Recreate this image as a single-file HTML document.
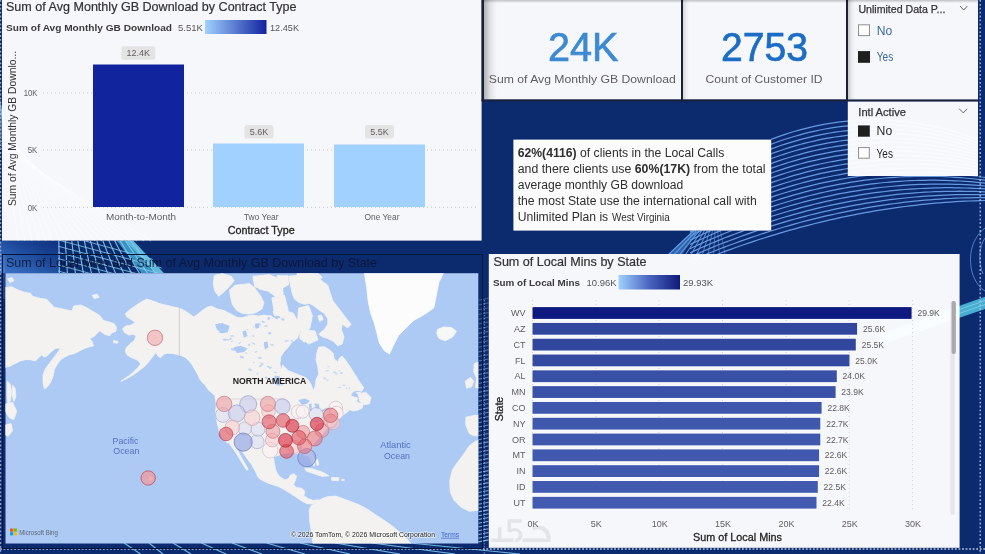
<!DOCTYPE html>
<html><head><meta charset="utf-8"><title>Dashboard</title>
<style>
html,body{margin:0;padding:0;background:#0c2a6e;}
body{width:985px;height:554px;overflow:hidden;position:relative;font-family:"Liberation Sans", sans-serif;}
#stage{position:absolute;left:0;top:0;width:985px;height:554px;overflow:hidden;filter:opacity(1);}
svg{position:absolute;left:0;top:0;display:block}
text{font-family:"Liberation Sans", sans-serif;}
</style></head><body>
<div id="stage">
<svg width="985" height="554" viewBox="0 0 985 554">
<defs>
<linearGradient id="g1" x1="0" x2="1" y1="0" y2="0"><stop offset="0" stop-color="#a0d1ff"/><stop offset="1" stop-color="#12239e"/></linearGradient>
<linearGradient id="g2" x1="0" x2="1" y1="0" y2="0"><stop offset="0" stop-color="#a0d1ff"/><stop offset="0.5" stop-color="#4a64c0"/><stop offset="1" stop-color="#0d1a7a"/></linearGradient>
<linearGradient id="shL" x1="0" x2="1" y1="0" y2="0"><stop offset="0" stop-color="#000" stop-opacity="0.28"/><stop offset="0.5" stop-color="#000" stop-opacity="0.08"/><stop offset="1" stop-color="#000" stop-opacity="0"/></linearGradient>
<clipPath id="mapclip"><rect x="5.5" y="273.2" width="472.8" height="270.3"/></clipPath>
</defs>
<rect x="0" y="0" width="985" height="554" fill="#0c2a6e"/>

<clipPath id="fanclip"><path d="M771 100 H977 V176.5 H985 V260 H664.9 L689.6 230.5 H771Z"/></clipPath>
<clipPath id="gridclip"><rect x="640" y="230" width="345" height="24.5"/></clipPath>
<clipPath id="bclip"><path d="M0 240.5 H482 V273 H0Z"/></clipPath>
<clipPath id="bclip2"><path d="M58 240 L133 240 L168 274 L58 274Z"/></clipPath>
<linearGradient id="bwash" x1="0" x2="1" y1="1" y2="0"><stop offset="0" stop-color="#3c78cc"/><stop offset="0.6" stop-color="#1c4798"/><stop offset="1" stop-color="#12378a" stop-opacity="0.6"/></linearGradient>
<g><path d="M690 182.4 L695 179.1 L700 175.8 L705 172.6 L710 169.5 L715 166.6 L720 163.7 L725 160.9 L730 158.1 L735 155.5 L740 153.0 L745 150.6 L750 148.2 L755 146.0 L760 143.8 L765 141.8 L770 139.8 L775 137.9 L780 136.1 L785 134.4 L790 132.8 L795 131.3 L800 129.9 L805 128.6 L810 127.3 L815 126.2 L820 125.2 L825 124.2 L830 123.3 L835 122.6 L840 121.9 L845 121.3 L850 120.8 L855 120.4 L860 120.1 L865 119.9 L870 119.8 L875 119.7 L880 119.8 L885 120.0 L890 120.2 L895 120.6 L900 121.0 L905 121.5 L910 122.1 L915 122.8 L920 123.6 L925 124.5 L930 125.5 L935 126.6 L940 127.8 L945 129.0 L950 130.4 L955 131.9 L960 133.4 L965 135.0 L970 136.8 L975 138.6 L980 140.5 L985 142.5" clip-path="url(#fanclip)" fill="none" stroke="#6b9fe6" stroke-opacity="0.95" stroke-width="1.2"/><path d="M690 186.6 L695 183.3 L700 180.1 L705 177.0 L710 173.9 L715 171.0 L720 168.1 L725 165.4 L730 162.7 L735 160.1 L740 157.7 L745 155.3 L750 152.9 L755 150.7 L760 148.6 L765 146.6 L770 144.6 L775 142.7 L780 141.0 L785 139.3 L790 137.7 L795 136.2 L800 134.8 L805 133.4 L810 132.2 L815 131.1 L820 130.0 L825 129.0 L830 128.2 L835 127.4 L840 126.7 L845 126.1 L850 125.6 L855 125.1 L860 124.8 L865 124.5 L870 124.4 L875 124.3 L880 124.3 L885 124.4 L890 124.6 L895 124.9 L900 125.3 L905 125.8 L910 126.3 L915 127.0 L920 127.7 L925 128.5 L930 129.4 L935 130.4 L940 131.5 L945 132.7 L950 134.0 L955 135.3 L960 136.8 L965 138.3 L970 140.0 L975 141.7 L980 143.5 L985 145.4" clip-path="url(#fanclip)" fill="none" stroke="#6b9fe6" stroke-opacity="0.95" stroke-width="1.2"/><path d="M690 190.7 L695 187.5 L700 184.3 L705 181.3 L710 178.3 L715 175.4 L720 172.6 L725 169.9 L730 167.3 L735 164.8 L740 162.3 L745 159.9 L750 157.7 L755 155.5 L760 153.4 L765 151.3 L770 149.4 L775 147.6 L780 145.8 L785 144.1 L790 142.6 L795 141.1 L800 139.6 L805 138.3 L810 137.1 L815 135.9 L820 134.9 L825 133.9 L830 133.0 L835 132.2 L840 131.5 L845 130.8 L850 130.3 L855 129.8 L860 129.5 L865 129.2 L870 129.0 L875 128.9 L880 128.8 L885 128.9 L890 129.0 L895 129.3 L900 129.6 L905 130.0 L910 130.5 L915 131.1 L920 131.7 L925 132.5 L930 133.3 L935 134.3 L940 135.3 L945 136.4 L950 137.6 L955 138.8 L960 140.2 L965 141.6 L970 143.2 L975 144.8 L980 146.5 L985 148.3" clip-path="url(#fanclip)" fill="none" stroke="#6b9fe6" stroke-opacity="0.95" stroke-width="1.2"/><path d="M690 194.9 L695 191.7 L700 188.6 L705 185.6 L710 182.7 L715 179.9 L720 177.1 L725 174.4 L730 171.9 L735 169.4 L740 167.0 L745 164.6 L750 162.4 L755 160.2 L760 158.1 L765 156.1 L770 154.2 L775 152.4 L780 150.7 L785 149.0 L790 147.4 L795 145.9 L800 144.5 L805 143.2 L810 142.0 L815 140.8 L820 139.7 L825 138.7 L830 137.8 L835 137.0 L840 136.3 L845 135.6 L850 135.0 L855 134.5 L860 134.1 L865 133.8 L870 133.6 L875 133.4 L880 133.4 L885 133.4 L890 133.5 L895 133.6 L900 133.9 L905 134.3 L910 134.7 L915 135.2 L920 135.8 L925 136.5 L930 137.2 L935 138.1 L940 139.0 L945 140.1 L950 141.2 L955 142.3 L960 143.6 L965 145.0 L970 146.4 L975 147.9 L980 149.5 L985 151.2" clip-path="url(#fanclip)" fill="none" stroke="#6b9fe6" stroke-opacity="0.95" stroke-width="1.2"/><path d="M690 199.0 L695 195.9 L700 192.9 L705 189.9 L710 187.1 L715 184.3 L720 181.6 L725 179.0 L730 176.4 L735 174.0 L740 171.6 L745 169.3 L750 167.1 L755 165.0 L760 162.9 L765 160.9 L770 159.0 L775 157.2 L780 155.5 L785 153.9 L790 152.3 L795 150.8 L800 149.4 L805 148.1 L810 146.8 L815 145.7 L820 144.6 L825 143.6 L830 142.7 L835 141.8 L840 141.0 L845 140.4 L850 139.8 L855 139.3 L860 138.8 L865 138.5 L870 138.2 L875 138.0 L880 137.9 L885 137.8 L890 137.9 L895 138.0 L900 138.2 L905 138.5 L910 138.9 L915 139.3 L920 139.9 L925 140.5 L930 141.2 L935 141.9 L940 142.8 L945 143.7 L950 144.7 L955 145.8 L960 147.0 L965 148.3 L970 149.6 L975 151.0 L980 152.5 L985 154.1" clip-path="url(#fanclip)" fill="none" stroke="#6b9fe6" stroke-opacity="0.95" stroke-width="1.2"/><path d="M690 203.1 L695 200.1 L700 197.1 L705 194.3 L710 191.4 L715 188.7 L720 186.1 L725 183.5 L730 181.0 L735 178.6 L740 176.3 L745 174.0 L750 171.8 L755 169.7 L760 167.7 L765 165.7 L770 163.9 L775 162.1 L780 160.4 L785 158.7 L790 157.2 L795 155.7 L800 154.3 L805 152.9 L810 151.7 L815 150.5 L820 149.4 L825 148.4 L830 147.5 L835 146.6 L840 145.8 L845 145.1 L850 144.5 L855 144.0 L860 143.5 L865 143.1 L870 142.8 L875 142.5 L880 142.4 L885 142.3 L890 142.3 L895 142.4 L900 142.5 L905 142.8 L910 143.1 L915 143.4 L920 143.9 L925 144.4 L930 145.1 L935 145.8 L940 146.5 L945 147.4 L950 148.3 L955 149.3 L960 150.4 L965 151.6 L970 152.8 L975 154.1 L980 155.5 L985 157.0" clip-path="url(#fanclip)" fill="none" stroke="#6b9fe6" stroke-opacity="0.95" stroke-width="1.2"/><path d="M690 207.3 L695 204.3 L700 201.4 L705 198.6 L710 195.8 L715 193.2 L720 190.6 L725 188.0 L730 185.6 L735 183.2 L740 180.9 L745 178.7 L750 176.5 L755 174.5 L760 172.5 L765 170.5 L770 168.7 L775 166.9 L780 165.2 L785 163.6 L790 162.0 L795 160.6 L800 159.1 L805 157.8 L810 156.6 L815 155.4 L820 154.3 L825 153.3 L830 152.3 L835 151.4 L840 150.6 L845 149.9 L850 149.2 L855 148.7 L860 148.2 L865 147.7 L870 147.4 L875 147.1 L880 146.9 L885 146.8 L890 146.7 L895 146.7 L900 146.8 L905 147.0 L910 147.2 L915 147.6 L920 148.0 L925 148.4 L930 149.0 L935 149.6 L940 150.3 L945 151.1 L950 151.9 L955 152.8 L960 153.8 L965 154.9 L970 156.0 L975 157.2 L980 158.5 L985 159.9" clip-path="url(#fanclip)" fill="none" stroke="#6b9fe6" stroke-opacity="0.95" stroke-width="1.2"/><path d="M690 211.4 L695 208.5 L700 205.7 L705 202.9 L710 200.2 L715 197.6 L720 195.0 L725 192.6 L730 190.2 L735 187.8 L740 185.6 L745 183.4 L750 181.3 L755 179.2 L760 177.2 L765 175.3 L770 173.5 L775 171.7 L780 170.1 L785 168.4 L790 166.9 L795 165.4 L800 164.0 L805 162.7 L810 161.4 L815 160.3 L820 159.1 L825 158.1 L830 157.1 L835 156.2 L840 155.4 L845 154.7 L850 154.0 L855 153.4 L860 152.8 L865 152.4 L870 152.0 L875 151.7 L880 151.4 L885 151.2 L890 151.1 L895 151.1 L900 151.1 L905 151.2 L910 151.4 L915 151.7 L920 152.0 L925 152.4 L930 152.9 L935 153.4 L940 154.0 L945 154.7 L950 155.5 L955 156.3 L960 157.2 L965 158.2 L970 159.2 L975 160.3 L980 161.5 L985 162.8" clip-path="url(#fanclip)" fill="none" stroke="#6b9fe6" stroke-opacity="0.95" stroke-width="1.2"/><path d="M690 215.6 L695 212.7 L700 209.9 L705 207.2 L710 204.6 L715 202.0 L720 199.5 L725 197.1 L730 194.7 L735 192.4 L740 190.2 L745 188.1 L750 186.0 L755 184.0 L760 182.0 L765 180.1 L770 178.3 L775 176.6 L780 174.9 L785 173.3 L790 171.8 L795 170.3 L800 168.9 L805 167.6 L810 166.3 L815 165.1 L820 164.0 L825 163.0 L830 162.0 L835 161.1 L840 160.2 L845 159.4 L850 158.7 L855 158.1 L860 157.5 L865 157.0 L870 156.6 L875 156.2 L880 155.9 L885 155.7 L890 155.6 L895 155.5 L900 155.4 L905 155.5 L910 155.6 L915 155.8 L920 156.1 L925 156.4 L930 156.8 L935 157.3 L940 157.8 L945 158.4 L950 159.1 L955 159.8 L960 160.6 L965 161.5 L970 162.4 L975 163.5 L980 164.5 L985 165.7" clip-path="url(#fanclip)" fill="none" stroke="#6b9fe6" stroke-opacity="0.95" stroke-width="1.2"/><path d="M690 219.7 L695 216.9 L700 214.2 L705 211.6 L710 209.0 L715 206.5 L720 204.0 L725 201.6 L730 199.3 L735 197.0 L740 194.9 L745 192.7 L750 190.7 L755 188.7 L760 186.8 L765 184.9 L770 183.1 L775 181.4 L780 179.7 L785 178.2 L790 176.6 L795 175.2 L800 173.8 L805 172.4 L810 171.2 L815 170.0 L820 168.9 L825 167.8 L830 166.8 L835 165.9 L840 165.0 L845 164.2 L850 163.5 L855 162.8 L860 162.2 L865 161.7 L870 161.2 L875 160.8 L880 160.4 L885 160.2 L890 160.0 L895 159.8 L900 159.8 L905 159.7 L910 159.8 L915 159.9 L920 160.1 L925 160.4 L930 160.7 L935 161.1 L940 161.5 L945 162.1 L950 162.6 L955 163.3 L960 164.0 L965 164.8 L970 165.7 L975 166.6 L980 167.6 L985 168.6" clip-path="url(#fanclip)" fill="none" stroke="#6b9fe6" stroke-opacity="0.95" stroke-width="1.2"/><path d="M690 223.8 L695 221.1 L700 218.5 L705 215.9 L710 213.4 L715 210.9 L720 208.5 L725 206.1 L730 203.9 L735 201.7 L740 199.5 L745 197.4 L750 195.4 L755 193.4 L760 191.5 L765 189.7 L770 187.9 L775 186.2 L780 184.6 L785 183.0 L790 181.5 L795 180.0 L800 178.7 L805 177.3 L810 176.1 L815 174.9 L820 173.7 L825 172.6 L830 171.6 L835 170.7 L840 169.8 L845 169.0 L850 168.2 L855 167.5 L860 166.9 L865 166.3 L870 165.8 L875 165.3 L880 165.0 L885 164.6 L890 164.4 L895 164.2 L900 164.1 L905 164.0 L910 164.0 L915 164.1 L920 164.2 L925 164.4 L930 164.6 L935 164.9 L940 165.3 L945 165.7 L950 166.2 L955 166.8 L960 167.4 L965 168.1 L970 168.9 L975 169.7 L980 170.6 L985 171.5" clip-path="url(#fanclip)" fill="none" stroke="#6b9fe6" stroke-opacity="0.95" stroke-width="1.2"/><path d="M690 228.0 L695 225.3 L700 222.7 L705 220.2 L710 217.7 L715 215.3 L720 213.0 L725 210.7 L730 208.4 L735 206.3 L740 204.2 L745 202.1 L750 200.1 L755 198.2 L760 196.3 L765 194.5 L770 192.8 L775 191.1 L780 189.4 L785 187.9 L790 186.4 L795 184.9 L800 183.5 L805 182.2 L810 180.9 L815 179.7 L820 178.6 L825 177.5 L830 176.5 L835 175.5 L840 174.6 L845 173.7 L850 172.9 L855 172.2 L860 171.5 L865 170.9 L870 170.4 L875 169.9 L880 169.5 L885 169.1 L890 168.8 L895 168.6 L900 168.4 L905 168.2 L910 168.2 L915 168.2 L920 168.2 L925 168.3 L930 168.5 L935 168.7 L940 169.0 L945 169.4 L950 169.8 L955 170.3 L960 170.8 L965 171.4 L970 172.1 L975 172.8 L980 173.6 L985 174.4" clip-path="url(#fanclip)" fill="none" stroke="#6b9fe6" stroke-opacity="0.95" stroke-width="1.2"/><path d="M690 232.1 L695 229.5 L700 227.0 L705 224.5 L710 222.1 L715 219.8 L720 217.4 L725 215.2 L730 213.0 L735 210.9 L740 208.8 L745 206.8 L750 204.8 L755 202.9 L760 201.1 L765 199.3 L770 197.6 L775 195.9 L780 194.3 L785 192.7 L790 191.2 L795 189.8 L800 188.4 L805 187.1 L810 185.8 L815 184.6 L820 183.4 L825 182.3 L830 181.3 L835 180.3 L840 179.4 L845 178.5 L850 177.7 L855 176.9 L860 176.2 L865 175.6 L870 175.0 L875 174.5 L880 174.0 L885 173.6 L890 173.2 L895 172.9 L900 172.7 L905 172.5 L910 172.4 L915 172.3 L920 172.3 L925 172.3 L930 172.4 L935 172.6 L940 172.8 L945 173.1 L950 173.4 L955 173.8 L960 174.2 L965 174.7 L970 175.3 L975 175.9 L980 176.6 L985 177.3" clip-path="url(#fanclip)" fill="none" stroke="#6b9fe6" stroke-opacity="0.95" stroke-width="1.2"/><path d="M690 236.3 L695 233.7 L700 231.3 L705 228.9 L710 226.5 L715 224.2 L720 221.9 L725 219.7 L730 217.6 L735 215.5 L740 213.5 L745 211.5 L750 209.6 L755 207.7 L760 205.9 L765 204.1 L770 202.4 L775 200.7 L780 199.1 L785 197.6 L790 196.1 L795 194.7 L800 193.3 L805 191.9 L810 190.7 L815 189.5 L820 188.3 L825 187.2 L830 186.1 L835 185.1 L840 184.2 L845 183.3 L850 182.4 L855 181.6 L860 180.9 L865 180.2 L870 179.6 L875 179.0 L880 178.5 L885 178.0 L890 177.6 L895 177.3 L900 177.0 L905 176.7 L910 176.6 L915 176.4 L920 176.3 L925 176.3 L930 176.3 L935 176.4 L940 176.5 L945 176.7 L950 177.0 L955 177.3 L960 177.6 L965 178.0 L970 178.5 L975 179.0 L980 179.6 L985 180.2" clip-path="url(#fanclip)" fill="none" stroke="#6b9fe6" stroke-opacity="0.95" stroke-width="1.2"/><path d="M690 240.4 L695 237.9 L700 235.5 L705 233.2 L710 230.9 L715 228.6 L720 226.4 L725 224.3 L730 222.2 L735 220.1 L740 218.1 L745 216.2 L750 214.3 L755 212.4 L760 210.6 L765 208.9 L770 207.2 L775 205.6 L780 204.0 L785 202.5 L790 201.0 L795 199.5 L800 198.2 L805 196.8 L810 195.5 L815 194.3 L820 193.1 L825 192.0 L830 190.9 L835 189.9 L840 188.9 L845 188.0 L850 187.2 L855 186.3 L860 185.6 L865 184.9 L870 184.2 L875 183.6 L880 183.0 L885 182.5 L890 182.1 L895 181.7 L900 181.3 L905 181.0 L910 180.7 L915 180.5 L920 180.4 L925 180.3 L930 180.2 L935 180.2 L940 180.3 L945 180.4 L950 180.6 L955 180.8 L960 181.0 L965 181.3 L970 181.7 L975 182.1 L980 182.6 L985 183.1" clip-path="url(#fanclip)" fill="none" stroke="#6b9fe6" stroke-opacity="0.95" stroke-width="1.2"/><path d="M690 244.5 L695 242.1 L700 239.8 L705 237.5 L710 235.3 L715 233.0 L720 230.9 L725 228.8 L730 226.7 L735 224.7 L740 222.8 L745 220.9 L750 219.0 L755 217.2 L760 215.4 L765 213.7 L770 212.0 L775 210.4 L780 208.8 L785 207.3 L790 205.8 L795 204.4 L800 203.0 L805 201.7 L810 200.4 L815 199.2 L820 198.0 L825 196.9 L830 195.8 L835 194.7 L840 193.7 L845 192.8 L850 191.9 L855 191.1 L860 190.3 L865 189.5 L870 188.8 L875 188.1 L880 187.5 L885 187.0 L890 186.5 L895 186.0 L900 185.6 L905 185.2 L910 184.9 L915 184.7 L920 184.4 L925 184.3 L930 184.1 L935 184.1 L940 184.0 L945 184.1 L950 184.1 L955 184.3 L960 184.4 L965 184.6 L970 184.9 L975 185.2 L980 185.6 L985 186.0" clip-path="url(#fanclip)" fill="none" stroke="#6b9fe6" stroke-opacity="0.95" stroke-width="1.2"/><path d="M690 248.7 L695 246.3 L700 244.1 L705 241.8 L710 239.6 L715 237.5 L720 235.4 L725 233.3 L730 231.3 L735 229.3 L740 227.4 L745 225.5 L750 223.7 L755 221.9 L760 220.2 L765 218.5 L770 216.8 L775 215.2 L780 213.7 L785 212.2 L790 210.7 L795 209.3 L800 207.9 L805 206.6 L810 205.3 L815 204.0 L820 202.9 L825 201.7 L830 200.6 L835 199.5 L840 198.5 L845 197.6 L850 196.6 L855 195.8 L860 194.9 L865 194.1 L870 193.4 L875 192.7 L880 192.1 L885 191.5 L890 190.9 L895 190.4 L900 189.9 L905 189.5 L910 189.1 L915 188.8 L920 188.5 L925 188.3 L930 188.1 L935 187.9 L940 187.8 L945 187.7 L950 187.7 L955 187.8 L960 187.8 L965 188.0 L970 188.1 L975 188.3 L980 188.6 L985 188.9" clip-path="url(#fanclip)" fill="none" stroke="#6b9fe6" stroke-opacity="0.95" stroke-width="1.2"/><path d="M690 252.8 L695 250.6 L700 248.3 L705 246.1 L710 244.0 L715 241.9 L720 239.9 L725 237.8 L730 235.9 L735 234.0 L740 232.1 L745 230.2 L750 228.4 L755 226.7 L760 225.0 L765 223.3 L770 221.7 L775 220.1 L780 218.5 L785 217.0 L790 215.6 L795 214.2 L800 212.8 L805 211.4 L810 210.2 L815 208.9 L820 207.7 L825 206.5 L830 205.4 L835 204.4 L840 203.3 L845 202.3 L850 201.4 L855 200.5 L860 199.6 L865 198.8 L870 198.0 L875 197.3 L880 196.6 L885 195.9 L890 195.3 L895 194.7 L900 194.2 L905 193.7 L910 193.3 L915 192.9 L920 192.5 L925 192.2 L930 192.0 L935 191.7 L940 191.6 L945 191.4 L950 191.3 L955 191.3 L960 191.2 L965 191.3 L970 191.3 L975 191.4 L980 191.6 L985 191.8" clip-path="url(#fanclip)" fill="none" stroke="#6b9fe6" stroke-opacity="0.95" stroke-width="1.2"/><path d="M690 257.0 L695 254.8 L700 252.6 L705 250.5 L710 248.4 L715 246.3 L720 244.3 L725 242.4 L730 240.5 L735 238.6 L740 236.7 L745 234.9 L750 233.1 L755 231.4 L760 229.7 L765 228.1 L770 226.5 L775 224.9 L780 223.4 L785 221.9 L790 220.4 L795 219.0 L800 217.7 L805 216.3 L810 215.0 L815 213.8 L820 212.6 L825 211.4 L830 210.3 L835 209.2 L840 208.1 L845 207.1 L850 206.1 L855 205.2 L860 204.3 L865 203.4 L870 202.6 L875 201.8 L880 201.1 L885 200.4 L890 199.7 L895 199.1 L900 198.5 L905 198.0 L910 197.5 L915 197.0 L920 196.6 L925 196.2 L930 195.9 L935 195.6 L940 195.3 L945 195.1 L950 194.9 L955 194.7 L960 194.6 L965 194.6 L970 194.5 L975 194.6 L980 194.6 L985 194.7" clip-path="url(#fanclip)" fill="none" stroke="#6b9fe6" stroke-opacity="0.95" stroke-width="1.2"/><path d="M690 261.1 L695 259.0 L700 256.9 L705 254.8 L710 252.8 L715 250.8 L720 248.8 L725 246.9 L730 245.0 L735 243.2 L740 241.4 L745 239.6 L750 237.9 L755 236.2 L760 234.5 L765 232.9 L770 231.3 L775 229.7 L780 228.2 L785 226.7 L790 225.3 L795 223.9 L800 222.5 L805 221.2 L810 219.9 L815 218.6 L820 217.4 L825 216.2 L830 215.1 L835 214.0 L840 212.9 L845 211.9 L850 210.9 L855 209.9 L860 209.0 L865 208.1 L870 207.2 L875 206.4 L880 205.6 L885 204.9 L890 204.1 L895 203.5 L900 202.8 L905 202.2 L910 201.7 L915 201.1 L920 200.7 L925 200.2 L930 199.8 L935 199.4 L940 199.1 L945 198.7 L950 198.5 L955 198.2 L960 198.0 L965 197.9 L970 197.8 L975 197.7 L980 197.6 L985 197.6" clip-path="url(#fanclip)" fill="none" stroke="#6b9fe6" stroke-opacity="0.95" stroke-width="1.2"/><path d="M690 265.2 L695 263.2 L700 261.1 L705 259.1 L710 257.2 L715 255.2 L720 253.3 L725 251.4 L730 249.6 L735 247.8 L740 246.0 L745 244.3 L750 242.6 L755 240.9 L760 239.3 L765 237.7 L770 236.1 L775 234.6 L780 233.1 L785 231.6 L790 230.2 L795 228.8 L800 227.4 L805 226.1 L810 224.8 L815 223.5 L820 222.3 L825 221.1 L830 219.9 L835 218.8 L840 217.7 L845 216.6 L850 215.6 L855 214.6 L860 213.6 L865 212.7 L870 211.8 L875 210.9 L880 210.1 L885 209.3 L890 208.6 L895 207.8 L900 207.1 L905 206.5 L910 205.9 L915 205.3 L920 204.7 L925 204.2 L930 203.7 L935 203.2 L940 202.8 L945 202.4 L950 202.1 L955 201.7 L960 201.4 L965 201.2 L970 201.0 L975 200.8 L980 200.6 L985 200.5" clip-path="url(#fanclip)" fill="none" stroke="#6b9fe6" stroke-opacity="0.95" stroke-width="1.2"/><g clip-path="url(#gridclip)"><line x1="693.6" y1="230.8" x2="668.9" y2="254.2" stroke="#6aa6ea" stroke-opacity="0.95" stroke-width="1.30"/><line x1="696.3" y1="230.8" x2="674.5" y2="254.2" stroke="#6aa6ea" stroke-opacity="0.91" stroke-width="1.25"/><line x1="699.0" y1="230.8" x2="680.1" y2="254.2" stroke="#6aa6ea" stroke-opacity="0.87" stroke-width="1.20"/><line x1="701.6" y1="230.8" x2="685.7" y2="254.2" stroke="#6aa6ea" stroke-opacity="0.83" stroke-width="1.15"/><line x1="704.3" y1="230.8" x2="691.3" y2="254.2" stroke="#6aa6ea" stroke-opacity="0.79" stroke-width="1.10"/><line x1="707.0" y1="230.8" x2="696.9" y2="254.2" stroke="#6aa6ea" stroke-opacity="0.75" stroke-width="1.05"/><line x1="709.7" y1="230.8" x2="702.5" y2="254.2" stroke="#6aa6ea" stroke-opacity="0.71" stroke-width="1.00"/><line x1="712.4" y1="230.8" x2="708.1" y2="254.2" stroke="#6aa6ea" stroke-opacity="0.67" stroke-width="0.95"/><line x1="715.0" y1="230.8" x2="713.7" y2="254.2" stroke="#6aa6ea" stroke-opacity="0.63" stroke-width="0.90"/><line x1="717.7" y1="230.8" x2="719.4" y2="254.2" stroke="#6aa6ea" stroke-opacity="0.59" stroke-width="0.85"/><line x1="720.4" y1="230.8" x2="725.0" y2="254.2" stroke="#6aa6ea" stroke-opacity="0.55" stroke-width="0.80"/><path d="M693.6 230.8 L668.9 254.2 L682.2 254.2 L698.5 230.8Z" fill="#4f8fdc" fill-opacity="0.55"/></g><path d="M985 228 C 972 238, 968 255, 972 272 C 975 282, 980 288, 985 291" fill="none" stroke="#6b9fe6" stroke-opacity="0.8" stroke-width="0.9"/><path d="M985 238 C 979 246, 978 262, 983 274" fill="none" stroke="#6b9fe6" stroke-opacity="0.8" stroke-width="0.9"/><path d="M880 334 L985 296.8 L985 309 L880 345Z" fill="#4cb4d8" fill-opacity="0.95"/><path d="M880 337.5 L985 300.5 M880 341 L985 304.5" stroke="#9fe0f0" stroke-opacity="0.7" stroke-width="0.8" fill="none"/><g clip-path="url(#bclip)"><rect x="0" y="240.5" width="60" height="33" fill="url(#bwash)"/><path d="M116.7 240.6 L133.0 240.6 L164.1 273.4 L141.7 273.4Z" fill="#3f9ccc" fill-opacity="0.9"/><path d="M125.3 240.6 L133.0 240.6 L164.1 273.4 L156.3 273.4Z" fill="#67c4e2" fill-opacity="0.8"/><g clip-path="url(#bclip2)"><line x1="58.8" y1="240.6" x2="59.4" y2="273.4" stroke="#7cc8ea" stroke-opacity="0.95" stroke-width="1.1"/><line x1="65.2" y1="240.6" x2="67.4" y2="273.4" stroke="#7cc8ea" stroke-opacity="0.95" stroke-width="1.1"/><line x1="71.8" y1="240.6" x2="75.4" y2="273.4" stroke="#7cc8ea" stroke-opacity="0.95" stroke-width="1.1"/><line x1="77.8" y1="240.6" x2="83.4" y2="273.4" stroke="#7cc8ea" stroke-opacity="0.95" stroke-width="1.1"/><line x1="84.2" y1="240.6" x2="91.5" y2="273.4" stroke="#7cc8ea" stroke-opacity="0.95" stroke-width="1.1"/><line x1="90.4" y1="240.6" x2="99.5" y2="273.4" stroke="#7cc8ea" stroke-opacity="0.95" stroke-width="1.1"/><line x1="96.8" y1="240.6" x2="107.5" y2="273.4" stroke="#7cc8ea" stroke-opacity="0.95" stroke-width="1.1"/><line x1="102.8" y1="240.6" x2="115.5" y2="273.4" stroke="#7cc8ea" stroke-opacity="0.95" stroke-width="1.1"/><line x1="108.9" y1="240.6" x2="123.6" y2="273.4" stroke="#7cc8ea" stroke-opacity="0.95" stroke-width="1.1"/><line x1="114.6" y1="240.6" x2="131.6" y2="273.4" stroke="#7cc8ea" stroke-opacity="0.95" stroke-width="1.1"/><line x1="120.1" y1="240.6" x2="139.6" y2="273.4" stroke="#7cc8ea" stroke-opacity="0.95" stroke-width="1.1"/><line x1="125.3" y1="240.6" x2="147.6" y2="273.4" stroke="#7cc8ea" stroke-opacity="0.95" stroke-width="1.1"/><line x1="130.5" y1="240.6" x2="155.7" y2="273.4" stroke="#7cc8ea" stroke-opacity="0.95" stroke-width="1.1"/><line x1="40.7" y1="229.0" x2="175.3" y2="265.4" stroke="#8fd0ee" stroke-opacity="0.85" stroke-width="0.9"/><line x1="40.7" y1="235.2" x2="175.3" y2="271.6" stroke="#8fd0ee" stroke-opacity="0.85" stroke-width="0.9"/><line x1="40.7" y1="241.5" x2="175.3" y2="277.8" stroke="#8fd0ee" stroke-opacity="0.85" stroke-width="0.9"/><line x1="40.7" y1="247.7" x2="175.3" y2="284.0" stroke="#8fd0ee" stroke-opacity="0.85" stroke-width="0.9"/><line x1="40.7" y1="253.9" x2="175.3" y2="290.2" stroke="#8fd0ee" stroke-opacity="0.85" stroke-width="0.9"/><line x1="40.7" y1="260.1" x2="175.3" y2="296.4" stroke="#8fd0ee" stroke-opacity="0.85" stroke-width="0.9"/><line x1="40.7" y1="266.3" x2="175.3" y2="302.7" stroke="#8fd0ee" stroke-opacity="0.85" stroke-width="0.9"/><line x1="40.7" y1="272.5" x2="175.3" y2="308.9" stroke="#8fd0ee" stroke-opacity="0.85" stroke-width="0.9"/><line x1="40.7" y1="278.7" x2="175.3" y2="315.1" stroke="#8fd0ee" stroke-opacity="0.85" stroke-width="0.9"/><line x1="40.7" y1="284.9" x2="175.3" y2="321.3" stroke="#8fd0ee" stroke-opacity="0.85" stroke-width="0.9"/><line x1="40.7" y1="291.2" x2="175.3" y2="327.5" stroke="#8fd0ee" stroke-opacity="0.85" stroke-width="0.9"/></g></g><line x1="124" y1="543" x2="140.6" y2="554" stroke="#7cc4ea" stroke-opacity="0.9" stroke-width="1.2"/><line x1="149" y1="543" x2="163" y2="554" stroke="#7cc4ea" stroke-opacity="0.9" stroke-width="1.2"/><line x1="173" y1="543" x2="191" y2="554" stroke="#7cc4ea" stroke-opacity="0.9" stroke-width="1.2"/><line x1="201.5" y1="543" x2="226" y2="554" stroke="#7cc4ea" stroke-opacity="0.9" stroke-width="1.2"/><line x1="232" y1="543" x2="262" y2="554" stroke="#7cc4ea" stroke-opacity="0.9" stroke-width="1.2"/><line x1="266.5" y1="543" x2="305" y2="554" stroke="#7cc4ea" stroke-opacity="0.9" stroke-width="1.2"/><line x1="300" y1="543" x2="350" y2="554" stroke="#7cc4ea" stroke-opacity="0.9" stroke-width="1.2"/><line x1="335" y1="543" x2="400" y2="554" stroke="#7cc4ea" stroke-opacity="0.9" stroke-width="1.2"/><line x1="372" y1="543" x2="455" y2="554" stroke="#7cc4ea" stroke-opacity="0.9" stroke-width="1.2"/><line x1="410" y1="543" x2="520" y2="554" stroke="#7cc4ea" stroke-opacity="0.9" stroke-width="1.2"/><line x1="478.5" y1="300.2" x2="488.5" y2="298.2" stroke="#7fb6ee" stroke-opacity="0.35" stroke-width="1.1"/><line x1="478.5" y1="305.0" x2="488.5" y2="303.0" stroke="#7fb6ee" stroke-opacity="0.36" stroke-width="1.1"/><line x1="478.5" y1="309.8" x2="488.5" y2="307.8" stroke="#7fb6ee" stroke-opacity="0.37" stroke-width="1.1"/><line x1="478.5" y1="314.5" x2="488.5" y2="312.5" stroke="#7fb6ee" stroke-opacity="0.39" stroke-width="1.1"/><line x1="478.5" y1="319.3" x2="488.5" y2="317.3" stroke="#7fb6ee" stroke-opacity="0.40" stroke-width="1.1"/><line x1="478.5" y1="324.0" x2="488.5" y2="322.0" stroke="#7fb6ee" stroke-opacity="0.41" stroke-width="1.1"/><line x1="478.5" y1="328.7" x2="488.5" y2="326.7" stroke="#7fb6ee" stroke-opacity="0.42" stroke-width="1.1"/><line x1="478.5" y1="333.4" x2="488.5" y2="331.4" stroke="#7fb6ee" stroke-opacity="0.43" stroke-width="1.1"/><line x1="478.5" y1="338.0" x2="488.5" y2="336.0" stroke="#7fb6ee" stroke-opacity="0.45" stroke-width="1.1"/><line x1="478.5" y1="342.7" x2="488.5" y2="340.7" stroke="#7fb6ee" stroke-opacity="0.46" stroke-width="1.1"/><line x1="478.5" y1="347.3" x2="488.5" y2="345.3" stroke="#7fb6ee" stroke-opacity="0.47" stroke-width="1.1"/><line x1="478.5" y1="351.9" x2="488.5" y2="349.9" stroke="#7fb6ee" stroke-opacity="0.48" stroke-width="1.1"/><line x1="478.5" y1="356.5" x2="488.5" y2="354.5" stroke="#7fb6ee" stroke-opacity="0.49" stroke-width="1.1"/><line x1="478.5" y1="361.0" x2="488.5" y2="359.0" stroke="#7fb6ee" stroke-opacity="0.51" stroke-width="1.1"/><line x1="478.5" y1="365.6" x2="488.5" y2="363.6" stroke="#7fb6ee" stroke-opacity="0.52" stroke-width="1.1"/><line x1="478.5" y1="370.1" x2="488.5" y2="368.1" stroke="#7fb6ee" stroke-opacity="0.53" stroke-width="1.1"/><line x1="478.5" y1="374.6" x2="488.5" y2="372.6" stroke="#7fb6ee" stroke-opacity="0.54" stroke-width="1.1"/><line x1="478.5" y1="379.1" x2="488.5" y2="377.1" stroke="#7fb6ee" stroke-opacity="0.55" stroke-width="1.1"/><line x1="478.5" y1="383.5" x2="488.5" y2="381.5" stroke="#7fb6ee" stroke-opacity="0.57" stroke-width="1.1"/><line x1="478.5" y1="388.0" x2="488.5" y2="386.0" stroke="#7fb6ee" stroke-opacity="0.58" stroke-width="1.1"/><line x1="478.5" y1="392.4" x2="488.5" y2="390.4" stroke="#7fb6ee" stroke-opacity="0.59" stroke-width="1.1"/><line x1="478.5" y1="396.8" x2="488.5" y2="394.8" stroke="#7fb6ee" stroke-opacity="0.60" stroke-width="1.1"/><line x1="478.5" y1="401.2" x2="488.5" y2="399.2" stroke="#7fb6ee" stroke-opacity="0.61" stroke-width="1.1"/><line x1="478.5" y1="405.5" x2="488.5" y2="403.5" stroke="#7fb6ee" stroke-opacity="0.63" stroke-width="1.1"/><line x1="478.5" y1="409.9" x2="488.5" y2="407.9" stroke="#7fb6ee" stroke-opacity="0.64" stroke-width="1.1"/><line x1="478.5" y1="414.2" x2="488.5" y2="412.2" stroke="#7fb6ee" stroke-opacity="0.65" stroke-width="1.1"/><line x1="478.5" y1="418.5" x2="488.5" y2="416.5" stroke="#7fb6ee" stroke-opacity="0.66" stroke-width="1.1"/><line x1="478.5" y1="422.8" x2="488.5" y2="420.8" stroke="#7fb6ee" stroke-opacity="0.67" stroke-width="1.1"/><line x1="478.5" y1="427.0" x2="488.5" y2="425.0" stroke="#7fb6ee" stroke-opacity="0.69" stroke-width="1.1"/><line x1="478.5" y1="431.3" x2="488.5" y2="429.3" stroke="#7fb6ee" stroke-opacity="0.70" stroke-width="1.1"/><line x1="478.5" y1="435.5" x2="488.5" y2="433.5" stroke="#7fb6ee" stroke-opacity="0.71" stroke-width="1.1"/><line x1="478.5" y1="439.7" x2="488.5" y2="437.7" stroke="#7fb6ee" stroke-opacity="0.72" stroke-width="1.1"/><line x1="478.5" y1="443.9" x2="488.5" y2="441.9" stroke="#7fb6ee" stroke-opacity="0.73" stroke-width="1.1"/><line x1="478.5" y1="448.0" x2="488.5" y2="446.0" stroke="#7fb6ee" stroke-opacity="0.75" stroke-width="1.1"/><line x1="478.5" y1="452.2" x2="488.5" y2="450.2" stroke="#7fb6ee" stroke-opacity="0.76" stroke-width="1.1"/><line x1="478.5" y1="456.3" x2="488.5" y2="454.3" stroke="#7fb6ee" stroke-opacity="0.77" stroke-width="1.1"/><line x1="478.5" y1="460.4" x2="488.5" y2="458.4" stroke="#7fb6ee" stroke-opacity="0.78" stroke-width="1.1"/><line x1="478.5" y1="464.5" x2="488.5" y2="462.5" stroke="#7fb6ee" stroke-opacity="0.79" stroke-width="1.1"/><line x1="478.5" y1="468.5" x2="488.5" y2="466.5" stroke="#7fb6ee" stroke-opacity="0.81" stroke-width="1.1"/><line x1="478.5" y1="472.6" x2="488.5" y2="470.6" stroke="#7fb6ee" stroke-opacity="0.82" stroke-width="1.1"/><line x1="478.5" y1="476.6" x2="488.5" y2="474.6" stroke="#7fb6ee" stroke-opacity="0.83" stroke-width="1.1"/><line x1="478.5" y1="480.6" x2="488.5" y2="478.6" stroke="#7fb6ee" stroke-opacity="0.84" stroke-width="1.1"/><line x1="478.5" y1="484.6" x2="488.5" y2="482.6" stroke="#7fb6ee" stroke-opacity="0.85" stroke-width="1.1"/><line x1="478.5" y1="488.5" x2="488.5" y2="486.5" stroke="#7fb6ee" stroke-opacity="0.87" stroke-width="1.1"/><line x1="478.5" y1="492.5" x2="488.5" y2="490.5" stroke="#7fb6ee" stroke-opacity="0.88" stroke-width="1.1"/><line x1="478.5" y1="496.4" x2="488.5" y2="494.4" stroke="#7fb6ee" stroke-opacity="0.89" stroke-width="1.1"/><line x1="478.5" y1="500.3" x2="488.5" y2="498.3" stroke="#7fb6ee" stroke-opacity="0.90" stroke-width="1.1"/><line x1="478.5" y1="504.2" x2="488.5" y2="502.2" stroke="#7fb6ee" stroke-opacity="0.91" stroke-width="1.1"/><line x1="478.5" y1="508.0" x2="488.5" y2="506.0" stroke="#7fb6ee" stroke-opacity="0.93" stroke-width="1.1"/><line x1="478.5" y1="511.9" x2="488.5" y2="509.9" stroke="#7fb6ee" stroke-opacity="0.94" stroke-width="1.1"/><line x1="478.5" y1="515.7" x2="488.5" y2="513.7" stroke="#7fb6ee" stroke-opacity="0.95" stroke-width="1.1"/><line x1="478.5" y1="519.5" x2="488.5" y2="517.5" stroke="#7fb6ee" stroke-opacity="0.95" stroke-width="1.1"/><line x1="478.5" y1="523.3" x2="488.5" y2="521.3" stroke="#7fb6ee" stroke-opacity="0.95" stroke-width="1.1"/><line x1="478.5" y1="527.0" x2="488.5" y2="525.0" stroke="#7fb6ee" stroke-opacity="0.95" stroke-width="1.1"/><line x1="478.5" y1="530.8" x2="488.5" y2="528.8" stroke="#7fb6ee" stroke-opacity="0.95" stroke-width="1.1"/><line x1="478.5" y1="534.5" x2="488.5" y2="532.5" stroke="#7fb6ee" stroke-opacity="0.95" stroke-width="1.1"/><line x1="478.5" y1="538.2" x2="488.5" y2="536.2" stroke="#7fb6ee" stroke-opacity="0.95" stroke-width="1.1"/><line x1="478.5" y1="541.9" x2="488.5" y2="539.9" stroke="#7fb6ee" stroke-opacity="0.95" stroke-width="1.1"/><line x1="2" y1="256" x2="5.5" y2="256" stroke="#5b93de" stroke-opacity="0.7" stroke-width="0.7"/><line x1="2" y1="258" x2="5.5" y2="258" stroke="#5b93de" stroke-opacity="0.7" stroke-width="0.7"/><line x1="2" y1="260" x2="5.5" y2="260" stroke="#5b93de" stroke-opacity="0.7" stroke-width="0.7"/><line x1="2" y1="262" x2="5.5" y2="262" stroke="#5b93de" stroke-opacity="0.7" stroke-width="0.7"/><line x1="2" y1="264" x2="5.5" y2="264" stroke="#5b93de" stroke-opacity="0.7" stroke-width="0.7"/><line x1="2" y1="266" x2="5.5" y2="266" stroke="#5b93de" stroke-opacity="0.7" stroke-width="0.7"/><line x1="2" y1="268" x2="5.5" y2="268" stroke="#5b93de" stroke-opacity="0.7" stroke-width="0.7"/><line x1="2" y1="270" x2="5.5" y2="270" stroke="#5b93de" stroke-opacity="0.7" stroke-width="0.7"/><line x1="2" y1="272" x2="5.5" y2="272" stroke="#5b93de" stroke-opacity="0.7" stroke-width="0.7"/><line x1="2" y1="274" x2="5.5" y2="274" stroke="#5b93de" stroke-opacity="0.7" stroke-width="0.7"/><line x1="2" y1="276" x2="5.5" y2="276" stroke="#5b93de" stroke-opacity="0.7" stroke-width="0.7"/><line x1="2" y1="278" x2="5.5" y2="278" stroke="#5b93de" stroke-opacity="0.7" stroke-width="0.7"/><line x1="2" y1="280" x2="5.5" y2="280" stroke="#5b93de" stroke-opacity="0.7" stroke-width="0.7"/><line x1="2" y1="282" x2="5.5" y2="282" stroke="#5b93de" stroke-opacity="0.7" stroke-width="0.7"/><line x1="2" y1="284" x2="5.5" y2="284" stroke="#5b93de" stroke-opacity="0.7" stroke-width="0.7"/><line x1="2" y1="286" x2="5.5" y2="286" stroke="#5b93de" stroke-opacity="0.7" stroke-width="0.7"/><line x1="2" y1="288" x2="5.5" y2="288" stroke="#5b93de" stroke-opacity="0.7" stroke-width="0.7"/><line x1="2" y1="290" x2="5.5" y2="290" stroke="#5b93de" stroke-opacity="0.7" stroke-width="0.7"/><line x1="2" y1="292" x2="5.5" y2="292" stroke="#5b93de" stroke-opacity="0.7" stroke-width="0.7"/><line x1="2" y1="294" x2="5.5" y2="294" stroke="#5b93de" stroke-opacity="0.7" stroke-width="0.7"/><line x1="2" y1="296" x2="5.5" y2="296" stroke="#5b93de" stroke-opacity="0.7" stroke-width="0.7"/><line x1="2" y1="298" x2="5.5" y2="298" stroke="#5b93de" stroke-opacity="0.7" stroke-width="0.7"/></g>
<line x1="980.2" y1="0" x2="980.2" y2="554" stroke="#b0bede" stroke-width="1.5" stroke-dasharray="1.8,2.1" opacity="0.85"/>
<line x1="0" y1="549" x2="985" y2="549" stroke="#c0cbe6" stroke-width="1.6" stroke-dasharray="1.8,1.75" opacity="0.95"/>
<line x1="0.6" y1="0" x2="0.6" y2="554" stroke="#b0bede" stroke-width="1.3" stroke-dasharray="1.8,2.1" opacity="0.8"/>
<line x1="484.3" y1="300" x2="484.3" y2="554" stroke="#c5d2ee" stroke-width="0.8" stroke-dasharray="1.5,1.5" opacity="0.7"/>
<g><line x1="0" y1="100.0" x2="18" y2="241" stroke="#9cc4f4" stroke-width="1.3" stroke-opacity="0.45"/><line x1="0" y1="102.5" x2="25" y2="241" stroke="#9cc4f4" stroke-width="1.3" stroke-opacity="0.45"/><line x1="0" y1="105.0" x2="32" y2="241" stroke="#9cc4f4" stroke-width="1.3" stroke-opacity="0.45"/><line x1="0" y1="107.5" x2="39" y2="241" stroke="#9cc4f4" stroke-width="1.3" stroke-opacity="0.45"/><line x1="0" y1="110.0" x2="46" y2="241" stroke="#9cc4f4" stroke-width="1.3" stroke-opacity="0.45"/><line x1="0" y1="112.5" x2="53" y2="241" stroke="#9cc4f4" stroke-width="1.3" stroke-opacity="0.45"/><line x1="0" y1="115.0" x2="60" y2="241" stroke="#9cc4f4" stroke-width="1.3" stroke-opacity="0.45"/><line x1="0" y1="117.5" x2="67" y2="241" stroke="#9cc4f4" stroke-width="1.3" stroke-opacity="0.45"/><line x1="0" y1="120.0" x2="74" y2="241" stroke="#9cc4f4" stroke-width="1.3" stroke-opacity="0.45"/><line x1="0" y1="122.5" x2="81" y2="241" stroke="#9cc4f4" stroke-width="1.3" stroke-opacity="0.45"/><line x1="0" y1="125.0" x2="88" y2="241" stroke="#9cc4f4" stroke-width="1.3" stroke-opacity="0.45"/><line x1="0" y1="127.5" x2="95" y2="241" stroke="#9cc4f4" stroke-width="1.3" stroke-opacity="0.45"/><line x1="0" y1="130.0" x2="102" y2="241" stroke="#9cc4f4" stroke-width="1.3" stroke-opacity="0.45"/><line x1="0" y1="132.5" x2="109" y2="241" stroke="#9cc4f4" stroke-width="1.3" stroke-opacity="0.45"/><line x1="0" y1="135.0" x2="116" y2="241" stroke="#9cc4f4" stroke-width="1.3" stroke-opacity="0.45"/><line x1="0" y1="137.5" x2="123" y2="241" stroke="#9cc4f4" stroke-width="1.3" stroke-opacity="0.45"/><line x1="0" y1="140.0" x2="130" y2="241" stroke="#9cc4f4" stroke-width="1.3" stroke-opacity="0.45"/><line x1="0" y1="142.5" x2="137" y2="241" stroke="#9cc4f4" stroke-width="1.3" stroke-opacity="0.45"/><line x1="0" y1="145.0" x2="144" y2="241" stroke="#9cc4f4" stroke-width="1.3" stroke-opacity="0.45"/><line x1="0" y1="147.5" x2="151" y2="241" stroke="#9cc4f4" stroke-width="1.3" stroke-opacity="0.45"/></g>
<rect x="2" y="0" width="479.6" height="240.6" fill="#ffffff" fill-opacity="0.965"/>
<text x="6" y="11" font-size="12.2" fill="#333" font-weight="normal" text-anchor="start" textLength="290.5" lengthAdjust="spacingAndGlyphs" stroke="#333" stroke-width="0.2">Sum of Avg Monthly GB Download by Contract Type</text>
<text x="6" y="30.7" font-size="9.7" fill="#3a3a3a" font-weight="bold" text-anchor="start" textLength="166" lengthAdjust="spacingAndGlyphs" >Sum of Avg Monthly GB Download</text>
<text x="178" y="30.6" font-size="9" fill="#555" font-weight="normal" text-anchor="start" textLength="25" lengthAdjust="spacingAndGlyphs" >5.51K</text>
<rect x="205" y="20" width="61.5" height="14" fill="url(#g1)"/>
<text x="270" y="30.6" font-size="9" fill="#555" font-weight="normal" text-anchor="start" textLength="29" lengthAdjust="spacingAndGlyphs" >12.45K</text>
<text transform="translate(15.6,206) rotate(-90)" font-size="10.4" fill="#333" textLength="155" lengthAdjust="spacingAndGlyphs">Sum of Avg Monthly GB Downlo...</text>
<text x="37.3" y="96.3" font-size="9" fill="#605e5c" font-weight="normal" text-anchor="end" textLength="13.6" lengthAdjust="spacingAndGlyphs" >10K</text>
<line x1="43" y1="93" x2="476" y2="93" stroke="#c8c8c8" stroke-width="1" stroke-dasharray="1,3"/>
<text x="37.3" y="153.3" font-size="9" fill="#605e5c" font-weight="normal" text-anchor="end" textLength="9.6" lengthAdjust="spacingAndGlyphs" >5K</text>
<line x1="43" y1="150" x2="476" y2="150" stroke="#c8c8c8" stroke-width="1" stroke-dasharray="1,3"/>
<text x="37.3" y="210.60000000000002" font-size="9" fill="#605e5c" font-weight="normal" text-anchor="end" textLength="9.6" lengthAdjust="spacingAndGlyphs" >0K</text>
<line x1="43" y1="207.3" x2="476" y2="207.3" stroke="#c8c8c8" stroke-width="1" stroke-dasharray="1,3"/>
<rect x="93" y="64.5" width="91" height="142.5" fill="#12239e"/>
<rect x="121.30000000000001" y="46.2" width="34" height="13.6" rx="2.5" fill="#e4e4e4"/>
<text x="138.3" y="56.2" font-size="9" fill="#605e5c" font-weight="normal" text-anchor="middle" >12.4K</text>
<rect x="213" y="143.5" width="91" height="63.5" fill="#a0d1ff"/>
<rect x="244.5" y="125.00000000000001" width="29" height="13.6" rx="2.5" fill="#e4e4e4"/>
<text x="259" y="135.0" font-size="9" fill="#605e5c" font-weight="normal" text-anchor="middle" >5.6K</text>
<rect x="334" y="144.5" width="91" height="62.5" fill="#a0d1ff"/>
<rect x="365.0" y="125.00000000000001" width="29" height="13.6" rx="2.5" fill="#e4e4e4"/>
<text x="379.5" y="135.0" font-size="9" fill="#605e5c" font-weight="normal" text-anchor="middle" >5.5K</text>
<text x="141" y="220" font-size="9" fill="#605e5c" font-weight="normal" text-anchor="middle" textLength="70" lengthAdjust="spacingAndGlyphs" >Month-to-Month</text>
<text x="261.2" y="220" font-size="9" fill="#605e5c" font-weight="normal" text-anchor="middle" textLength="35" lengthAdjust="spacingAndGlyphs" >Two Year</text>
<text x="382" y="220" font-size="9" fill="#605e5c" font-weight="normal" text-anchor="middle" textLength="35" lengthAdjust="spacingAndGlyphs" >One Year</text>
<text x="261.2" y="234" font-size="10.5" fill="#252423" font-weight="normal" text-anchor="middle" textLength="67" lengthAdjust="spacingAndGlyphs" stroke="#252423" stroke-width="0.3">Contract Type</text>
<rect x="481.6" y="0" width="2.4" height="101.5" fill="#1a2038"/>
<rect x="681" y="0" width="2.2" height="101.5" fill="#1a2038"/>
<rect x="846" y="0" width="2" height="101.5" fill="#1a2038"/>
<rect x="481.6" y="99.2" width="496.5" height="2.1" fill="#1a2038"/>
<rect x="484" y="0" width="197" height="99.3" fill="#ffffff" fill-opacity="0.965"/>
<rect x="484" y="0" width="13" height="99.3" fill="url(#shL)"/>
<text x="583.2" y="60.5" font-size="41" fill="#3b8ad2" font-weight="normal" text-anchor="middle" textLength="70.5" lengthAdjust="spacingAndGlyphs" stroke="#3b8ad2" stroke-width="0.7">24K</text>
<text x="582.3" y="83.3" font-size="11.5" fill="#605e5c" font-weight="normal" text-anchor="middle" textLength="187" lengthAdjust="spacingAndGlyphs" >Sum of Avg Monthly GB Download</text>
<rect x="683" y="0" width="163" height="99.3" fill="#ffffff" fill-opacity="0.965"/>
<text x="764.5" y="60.5" font-size="41" fill="#1c6dc6" font-weight="normal" text-anchor="middle" textLength="87" lengthAdjust="spacingAndGlyphs" stroke="#1c6dc6" stroke-width="0.7">2753</text>
<text x="764" y="83.3" font-size="11.5" fill="#605e5c" font-weight="normal" text-anchor="middle" textLength="117" lengthAdjust="spacingAndGlyphs" >Count of Customer ID</text>
<rect x="848" y="0" width="130" height="99.4" fill="#ffffff" fill-opacity="0.965"/>
<rect x="848" y="0" width="7" height="99.4" fill="url(#shL)" opacity="0.7"/>
<text x="858.4" y="13" font-size="10.6" fill="#333" font-weight="normal" text-anchor="start" textLength="87" lengthAdjust="spacingAndGlyphs" stroke="#333" stroke-width="0.25">Unlimited Data P...</text>
<path d="M960 6 l3.7 4 l3.7 -4" fill="none" stroke="#666" stroke-width="1"/>
<rect x="858.5" y="24.8" width="11" height="10.8" fill="#fdfdfd" stroke="#8f8f8f" stroke-width="1"/>
<text x="876.8" y="34.6" font-size="12.2" fill="#3a6a9c" font-weight="normal" text-anchor="start" textLength="15.5" lengthAdjust="spacingAndGlyphs" >No</text>
<rect x="858" y="51.1" width="12" height="11.7" fill="#1f1f1f"/>
<text x="876.8" y="60.7" font-size="12.2" fill="#3a6a9c" font-weight="normal" text-anchor="start" textLength="16.5" lengthAdjust="spacingAndGlyphs" >Yes</text>
<rect x="847.8" y="101.6" width="130.2" height="74.4" fill="#ffffff" fill-opacity="0.965"/>
<text x="858.3" y="116" font-size="10.6" fill="#333" font-weight="normal" text-anchor="start" textLength="47.6" lengthAdjust="spacingAndGlyphs" stroke="#333" stroke-width="0.25">Intl Active</text>
<path d="M959.3 108.8 l3.95 4.1 l3.95 -4.1" fill="none" stroke="#666" stroke-width="1"/>
<rect x="858" y="125.4" width="11.8" height="11.3" fill="#1f1f1f"/>
<text x="876.6" y="134.8" font-size="12.2" fill="#2a2a2a" font-weight="normal" text-anchor="start" textLength="15.6" lengthAdjust="spacingAndGlyphs" >No</text>
<rect x="858.5" y="147.6" width="10.8" height="10.6" fill="#fdfdfd" stroke="#8f8f8f" stroke-width="1"/>
<text x="876.6" y="157.5" font-size="12.2" fill="#2a2a2a" font-weight="normal" text-anchor="start" textLength="16.3" lengthAdjust="spacingAndGlyphs" >Yes</text>
<rect x="513.4" y="139.6" width="257.8" height="91" fill="#fcfcfd"/>
<text x="517.7" y="157.4" font-size="12.3" fill="#2e2e2e" font-weight="normal" text-anchor="start" textLength="206.7" lengthAdjust="spacingAndGlyphs" ><tspan font-weight='bold'>62%(4116)</tspan> of clients in the Local Calls</text>
<text x="517.7" y="173.25" font-size="12.3" fill="#2e2e2e" font-weight="normal" text-anchor="start" textLength="247.8" lengthAdjust="spacingAndGlyphs" >and there clients use <tspan font-weight='bold'>60%(17K)</tspan> from the total</text>
<text x="517.7" y="189.1" font-size="12.3" fill="#2e2e2e" font-weight="normal" text-anchor="start" textLength="165.5" lengthAdjust="spacingAndGlyphs" >average monthly GB download</text>
<text x="517.7" y="204.95" font-size="12.3" fill="#2e2e2e" font-weight="normal" text-anchor="start" textLength="239" lengthAdjust="spacingAndGlyphs" >the most State use the international call with</text>
<text x="517.7" y="220.8" font-size="12.3" fill="#2e2e2e" font-weight="normal" text-anchor="start" textLength="90.5" lengthAdjust="spacingAndGlyphs" >Unlimited Plan is</text>
<text x="612" y="220.7" font-size="10" fill="#2e2e2e" font-weight="normal" text-anchor="start" textLength="57.8" lengthAdjust="spacingAndGlyphs" >West Virginia</text>
<linearGradient id="shT" x1="0" x2="0" y1="0" y2="1"><stop offset="0" stop-color="#000" stop-opacity="0.22"/><stop offset="1" stop-color="#000" stop-opacity="0"/></linearGradient>
<rect x="484" y="0" width="494" height="3" fill="url(#shT)"/>
<rect x="683.2" y="0" width="6" height="99.2" fill="url(#shL)" opacity="0.5"/>
<rect x="2.5" y="254.5" width="480" height="294" fill="none" stroke="#06153a" stroke-width="1"/>
<text x="6" y="267" font-size="12.2" fill="#0a1430" font-weight="normal" text-anchor="start" textLength="371" lengthAdjust="spacingAndGlyphs" opacity="0.85">Sum of Local Mins and Sum of Avg Monthly GB Download by State</text>
<rect x="5.5" y="273.2" width="472.8" height="270.3" fill="#adcaf5"/>
<g clip-path="url(#mapclip)"><path d="M4.6 287.7 L11.4 286.7 L17.7 289.7 L24.0 292.2 L30.3 293.3 L32.9 296.5 L40.4 298.3 L46.8 299.3 L50.6 303.4 L54.3 307.4 L60.7 308.4 L67.0 309.9 L72.0 311.0 L73.8 305.9 L80.9 304.9 L87.2 307.9 L93.5 311.7 L99.8 315.5 L103.6 320.6 L108.7 321.8 L114.3 323.8 L116.5 327.6 L115.8 331.4 L111.2 333.2 L110.0 335.7 L104.9 334.5 L99.8 330.7 L97.3 333.2 L93.5 337.0 L89.7 338.3 L92.3 342.0 L93.5 345.8 L88.5 347.1 L84.7 348.4 L79.6 350.9 L74.6 353.4 L69.5 354.7 L64.5 357.2 L60.7 359.7 L56.9 364.8 L54.3 369.8 L53.1 376.2 L50.6 382.5 L46.8 387.5 L44.2 388.8 L43.0 382.5 L43.0 374.9 L45.5 368.6 L49.3 363.5 L53.1 358.5 L56.9 353.4 L60.7 347.9 L55.6 348.4 L50.6 352.2 L46.8 355.9 L44.2 357.2 L41.7 354.7 L39.2 357.2 L35.4 361.0 L30.3 359.7 L25.3 359.7 L20.2 361.0 L15.2 363.5 L10.1 366.1 L4.6 367.6Z" fill="#f3f2f0" stroke="#f3f2f0" stroke-width="0.8" stroke-linejoin="round" opacity="1"/><path d="M7.1 381.2 L10.1 383.8 L11.4 391.3 L10.6 400.2 L8.1 404.0 L7.1 396.4Z" fill="#f3f2f0" stroke="#f3f2f0" stroke-width="0.8" stroke-linejoin="round" opacity="1"/><path d="M12.6 385.0 L15.2 388.8 L15.9 396.4 L13.9 401.4 L12.1 395.1Z" fill="#f3f2f0" stroke="#f3f2f0" stroke-width="0.8" stroke-linejoin="round" opacity="1"/><path d="M7.6 278.8 L12.1 277.6 L13.9 280.6 L10.1 282.6Z" fill="#f3f2f0" stroke="#f3f2f0" stroke-width="0.8" stroke-linejoin="round" opacity="1"/><path d="M92.3 295.3 L97.3 294.3 L99.1 297.3 L94.0 298.6Z" fill="#f3f2f0" stroke="#f3f2f0" stroke-width="0.8" stroke-linejoin="round" opacity="1"/><path d="M5.0 404.2 L12.5 402.2 L16.7 411.1 L13.9 419.5 L9.7 418.1 L5.0 411.1Z" fill="#f3f2f0" stroke="#f3f2f0" stroke-width="0.8" stroke-linejoin="round" opacity="1"/><path d="M5.0 425.0 L11.1 423.6 L12.5 430.6 L8.3 436.2 L5.0 434.8Z" fill="#f3f2f0" stroke="#f3f2f0" stroke-width="0.8" stroke-linejoin="round" opacity="1"/><path d="M113.5 340.5 L118.1 341.4 L117.7 343.2 L113.5 342.7Z" fill="#f3f2f0" stroke="#f3f2f0" stroke-width="0.8" stroke-linejoin="round" opacity="1"/><path d="M125.3 313.5 L130.7 309.0 L136.1 305.3 L141.5 301.7 L146.9 299.0 L152.3 300.8 L159.6 303.5 L166.8 305.3 L174.0 307.1 L179.4 308.1 L184.8 310.8 L190.3 314.4 L193.9 317.1 L198.4 313.5 L202.9 309.9 L207.4 307.1 L211.5 306.1 L216.9 308.8 L224.2 310.6 L231.4 314.2 L236.8 317.3 L242.2 317.8 L247.6 316.0 L253.0 315.1 L258.4 316.0 L263.9 315.1 L271.1 316.0 L276.5 319.6 L281.9 316.9 L287.3 313.3 L292.7 315.1 L296.4 319.6 L300.0 324.2 L277.2 315.1 L288.1 311.5 L293.5 313.3 L297.1 320.5 L300.7 315.1 L304.3 309.7 L307.9 313.3 L308.8 322.3 L305.2 326.0 L300.7 329.6 L297.1 338.6 L291.7 342.2 L288.1 347.6 L284.4 351.2 L280.8 356.6 L279.9 363.9 L281.2 370.0 L282.6 365.1 L288.1 370.5 L297.1 374.2 L306.1 377.8 L310.6 383.2 L313.3 390.8 L315.1 386.8 L316.0 379.6 L318.7 374.2 L317.8 366.9 L316.0 359.7 L316.9 352.5 L318.7 347.1 L324.2 346.7 L329.6 349.8 L333.2 353.4 L334.1 358.8 L337.7 361.9 L339.5 357.9 L342.2 356.1 L345.8 360.6 L350.3 366.9 L354.8 374.2 L359.4 381.4 L363.8 387.8 L361.8 391.2 L357.7 390.5 L353.2 391.2 L350.5 395.3 L354.1 397.1 L357.7 398.1 L356.4 401.3 L359.5 403.1 L363.1 403.8 L362.2 408.0 L357.7 410.3 L353.2 411.0 L349.6 409.8 L347.4 412.1 L344.2 414.3 L340.5 417.0 L337.3 420.6 L334.2 424.2 L326.8 428.4 L322.1 434.7 L315.8 441.0 L311.0 447.4 L312.6 453.7 L315.1 461.6 L314.2 466.3 L312.0 463.1 L309.5 456.8 L304.7 455.3 L301.6 452.7 L296.8 453.7 L288.9 452.7 L281.7 454.0 L273.4 457.1 L274.3 462.7 L275.3 468.4 L277.2 473.2 L280.0 477.0 L284.8 479.8 L288.5 478.8 L290.4 475.1 L293.8 473.7 L296.5 476.0 L295.4 480.7 L293.5 484.5 L296.1 487.4 L301.8 488.3 L304.8 491.2 L303.9 495.9 L308.4 498.7 L313.2 500.6 L317.0 499.9 L320.8 500.3 L320.8 502.9 L317.0 502.0 L313.2 503.9 L307.5 503.9 L301.8 501.0 L296.1 497.2 L290.4 493.4 L284.8 490.0 L279.1 486.8 L273.4 484.9 L267.7 483.0 L262.0 480.2 L258.6 478.0 L255.5 471.7 L251.7 464.7 L246.6 457.8 L242.2 451.4 L238.4 447.6 L237.1 449.5 L240.3 455.2 L244.1 462.2 L247.6 468.1 L248.1 469.8 L246.6 470.1 L243.1 464.7 L239.0 457.8 L234.6 450.8 L230.8 445.7 L228.3 442.0 L227.4 443.3 L222.6 437.9 L219.5 431.6 L217.3 423.7 L215.4 414.2 L216.3 404.7 L214.7 395.3 L208.3 390.0 L205.6 385.7 L202.0 382.1 L199.3 378.4 L197.5 373.9 L194.8 369.4 L192.1 364.9 L189.4 361.3 L185.7 357.7 L182.1 355.9 L177.6 354.6 L172.2 353.5 L167.7 353.2 L164.1 354.1 L160.5 357.7 L157.8 355.9 L156.0 352.3 L153.2 355.9 L150.5 359.5 L147.8 363.1 L144.2 366.7 L138.8 370.9 L133.4 374.8 L127.1 378.4 L120.8 381.3 L123.5 379.4 L128.9 375.7 L133.4 372.1 L137.9 367.6 L140.6 364.0 L138.8 361.3 L136.1 359.5 L131.6 357.7 L127.1 355.0 L125.3 351.4 L126.2 347.8 L129.8 344.2 L134.3 340.5 L136.1 336.0 L133.4 334.2 L128.9 335.1 L124.4 332.4 L122.6 328.8 L125.3 326.1 L130.7 325.2 L135.2 322.5 L131.6 319.8 L127.1 317.1Z" fill="#f3f2f0" stroke="#f3f2f0" stroke-width="0.8" stroke-linejoin="round" opacity="1"/><path d="M215.1 324.2 L222.3 323.2 L229.6 326.0 L227.8 332.3 L222.3 333.2 L216.9 329.6Z" fill="#adcaf5" opacity="1"/><path d="M233.2 347.6 L240.4 345.8 L247.6 348.5 L244.0 352.1 L236.8 353.0Z" fill="#adcaf5" opacity="1"/><path d="M254.8 324.2 L258.4 323.2 L259.4 327.8 L255.7 328.7Z" fill="#adcaf5" opacity="1"/><path d="M263.9 342.2 L267.5 341.3 L268.4 347.6 L264.8 349.4Z" fill="#adcaf5" opacity="1"/><path d="M242.2 331.4 L245.8 330.5 L247.6 335.9 L244.0 337.7Z" fill="#adcaf5" opacity="1"/><path d="M274.7 375.7 L279.5 376.3 L280.4 385.8 L276.3 385.2Z" fill="#adcaf5" opacity="1"/><path d="M298.4 400.0 L304.7 398.4 L310.1 400.9 L306.3 404.1 L301.6 404.7Z" fill="#adcaf5" opacity="1"/><path d="M308.8 404.1 L311.4 403.5 L312.0 410.4 L309.5 411.0Z" fill="#adcaf5" opacity="1"/><path d="M314.2 403.2 L318.9 404.1 L319.6 408.5 L316.4 409.2Z" fill="#adcaf5" opacity="1"/><path d="M320.5 410.4 L327.5 407.6 L328.1 409.5 L321.5 412.3Z" fill="#adcaf5" opacity="1"/><path d="M298.5 308.1 L308.6 305.5 L312.4 315.7 L309.9 328.4 L302.3 333.5 L297.2 325.8Z" fill="#f3f2f0" stroke="#f3f2f0" stroke-width="0.8" stroke-linejoin="round" opacity="1"/><path d="M302.3 329.6 L315.0 330.9 L318.0 339.8 L308.6 344.1 L301.8 338.5Z" fill="#f3f2f0" stroke="#f3f2f0" stroke-width="0.8" stroke-linejoin="round" opacity="1"/><path d="M252.8 276.3 L269.3 274.6 L282.0 280.2 L283.2 294.1 L276.9 297.9 L269.3 291.6 L259.1 289.0Z" fill="#f3f2f0" stroke="#f3f2f0" stroke-width="0.8" stroke-linejoin="round" opacity="1"/><path d="M288.3 276.3 L312.4 273.8 L327.7 285.2 L332.7 300.5 L325.1 308.1 L315.0 300.5 L302.3 297.9 L292.1 290.3Z" fill="#f3f2f0" stroke="#f3f2f0" stroke-width="0.8" stroke-linejoin="round" opacity="1"/><path d="M271.8 297.9 L284.5 295.4 L288.3 310.6 L282.0 317.0 L274.4 313.1Z" fill="#f3f2f0" stroke="#f3f2f0" stroke-width="0.8" stroke-linejoin="round" opacity="1"/><ellipse cx="253.3" cy="336.0" rx="0.87" ry="0.92" transform="rotate(-11 253.3 336.0)" fill="#adcaf5" fill-opacity="0.75"/><ellipse cx="222.0" cy="323.7" rx="1.42" ry="0.56" transform="rotate(-33 222.0 323.7)" fill="#adcaf5" fill-opacity="0.75"/><ellipse cx="249.1" cy="344.9" rx="1.10" ry="0.99" transform="rotate(36 249.1 344.9)" fill="#adcaf5" fill-opacity="0.75"/><ellipse cx="264.6" cy="345.4" rx="0.83" ry="1.16" transform="rotate(-17 264.6 345.4)" fill="#adcaf5" fill-opacity="0.75"/><ellipse cx="220.2" cy="332.3" rx="2.00" ry="0.65" transform="rotate(7 220.2 332.3)" fill="#adcaf5" fill-opacity="0.75"/><ellipse cx="253.6" cy="362.6" rx="0.86" ry="0.55" transform="rotate(-24 253.6 362.6)" fill="#adcaf5" fill-opacity="0.75"/><ellipse cx="266.0" cy="326.1" rx="1.65" ry="0.85" transform="rotate(-16 266.0 326.1)" fill="#adcaf5" fill-opacity="0.75"/><ellipse cx="268.4" cy="366.8" rx="1.64" ry="0.91" transform="rotate(30 268.4 366.8)" fill="#adcaf5" fill-opacity="0.75"/><ellipse cx="257.3" cy="373.7" rx="0.94" ry="0.83" transform="rotate(21 257.3 373.7)" fill="#adcaf5" fill-opacity="0.75"/><ellipse cx="268.8" cy="318.1" rx="1.78" ry="1.09" transform="rotate(6 268.8 318.1)" fill="#adcaf5" fill-opacity="0.75"/><ellipse cx="266.3" cy="377.7" rx="1.67" ry="0.95" transform="rotate(-4 266.3 377.7)" fill="#adcaf5" fill-opacity="0.75"/><ellipse cx="275.5" cy="372.6" rx="1.77" ry="0.55" transform="rotate(16 275.5 372.6)" fill="#adcaf5" fill-opacity="0.75"/><ellipse cx="291.8" cy="340.9" rx="1.19" ry="0.80" transform="rotate(13 291.8 340.9)" fill="#adcaf5" fill-opacity="0.75"/><ellipse cx="219.2" cy="323.6" rx="0.94" ry="0.55" transform="rotate(21 219.2 323.6)" fill="#adcaf5" fill-opacity="0.75"/><ellipse cx="221.6" cy="332.6" rx="2.09" ry="0.57" transform="rotate(-4 221.6 332.6)" fill="#adcaf5" fill-opacity="0.75"/><ellipse cx="286.8" cy="340.9" rx="2.08" ry="0.72" transform="rotate(-7 286.8 340.9)" fill="#adcaf5" fill-opacity="0.75"/><ellipse cx="246.3" cy="353.2" rx="0.99" ry="0.64" transform="rotate(-21 246.3 353.2)" fill="#adcaf5" fill-opacity="0.75"/><ellipse cx="231.9" cy="341.1" rx="1.16" ry="0.51" transform="rotate(-6 231.9 341.1)" fill="#adcaf5" fill-opacity="0.75"/><ellipse cx="272.3" cy="344.8" rx="1.81" ry="0.90" transform="rotate(9 272.3 344.8)" fill="#adcaf5" fill-opacity="0.75"/><ellipse cx="250.1" cy="369.7" rx="1.95" ry="1.17" transform="rotate(24 250.1 369.7)" fill="#adcaf5" fill-opacity="0.75"/><ellipse cx="239.6" cy="342.9" rx="1.73" ry="0.56" transform="rotate(-35 239.6 342.9)" fill="#adcaf5" fill-opacity="0.75"/><ellipse cx="253.9" cy="326.9" rx="0.84" ry="0.51" transform="rotate(-28 253.9 326.9)" fill="#adcaf5" fill-opacity="0.75"/><ellipse cx="222.0" cy="325.9" rx="2.09" ry="0.98" transform="rotate(-28 222.0 325.9)" fill="#adcaf5" fill-opacity="0.75"/><ellipse cx="230.5" cy="338.9" rx="0.95" ry="1.15" transform="rotate(39 230.5 338.9)" fill="#adcaf5" fill-opacity="0.75"/><ellipse cx="268.6" cy="319.5" rx="0.92" ry="0.77" transform="rotate(-19 268.6 319.5)" fill="#adcaf5" fill-opacity="0.75"/><ellipse cx="260.9" cy="365.6" rx="2.21" ry="0.91" transform="rotate(-28 260.9 365.6)" fill="#adcaf5" fill-opacity="0.75"/><ellipse cx="241.8" cy="357.1" rx="2.25" ry="1.16" transform="rotate(16 241.8 357.1)" fill="#adcaf5" fill-opacity="0.75"/><ellipse cx="263.2" cy="321.8" rx="1.94" ry="0.91" transform="rotate(22 263.2 321.8)" fill="#adcaf5" fill-opacity="0.75"/><ellipse cx="232.9" cy="349.5" rx="2.26" ry="1.16" transform="rotate(24 232.9 349.5)" fill="#adcaf5" fill-opacity="0.75"/><ellipse cx="270.6" cy="367.9" rx="1.55" ry="0.78" transform="rotate(-38 270.6 367.9)" fill="#adcaf5" fill-opacity="0.75"/><ellipse cx="259.2" cy="324.5" rx="1.82" ry="1.24" transform="rotate(-4 259.2 324.5)" fill="#adcaf5" fill-opacity="0.75"/><ellipse cx="281.9" cy="384.7" rx="1.32" ry="0.68" transform="rotate(-22 281.9 384.7)" fill="#adcaf5" fill-opacity="0.75"/><ellipse cx="224.8" cy="339.6" rx="2.13" ry="1.15" transform="rotate(-2 224.8 339.6)" fill="#adcaf5" fill-opacity="0.75"/><ellipse cx="283.0" cy="319.4" rx="1.77" ry="1.20" transform="rotate(23 283.0 319.4)" fill="#adcaf5" fill-opacity="0.75"/><ellipse cx="261.9" cy="363.5" rx="1.96" ry="0.76" transform="rotate(24 261.9 363.5)" fill="#adcaf5" fill-opacity="0.75"/><ellipse cx="273.4" cy="378.7" rx="2.20" ry="1.06" transform="rotate(-26 273.4 378.7)" fill="#adcaf5" fill-opacity="0.75"/><ellipse cx="253.4" cy="343.4" rx="1.99" ry="0.62" transform="rotate(26 253.4 343.4)" fill="#adcaf5" fill-opacity="0.75"/><ellipse cx="278.5" cy="378.5" rx="1.60" ry="0.61" transform="rotate(-39 278.5 378.5)" fill="#adcaf5" fill-opacity="0.75"/><ellipse cx="277.9" cy="380.5" rx="2.18" ry="0.84" transform="rotate(30 277.9 380.5)" fill="#adcaf5" fill-opacity="0.75"/><ellipse cx="256.1" cy="324.3" rx="1.21" ry="0.69" transform="rotate(7 256.1 324.3)" fill="#adcaf5" fill-opacity="0.75"/><ellipse cx="232.2" cy="336.0" rx="2.15" ry="0.78" transform="rotate(-3 232.2 336.0)" fill="#adcaf5" fill-opacity="0.75"/><ellipse cx="259.8" cy="357.8" rx="2.16" ry="0.89" transform="rotate(3 259.8 357.8)" fill="#adcaf5" fill-opacity="0.75"/><ellipse cx="247.3" cy="329.8" rx="1.04" ry="0.51" transform="rotate(24 247.3 329.8)" fill="#adcaf5" fill-opacity="0.75"/><ellipse cx="228.1" cy="339.7" rx="1.61" ry="0.76" transform="rotate(1 228.1 339.7)" fill="#adcaf5" fill-opacity="0.75"/><ellipse cx="256.0" cy="351.8" rx="1.61" ry="0.70" transform="rotate(-18 256.0 351.8)" fill="#adcaf5" fill-opacity="0.75"/><ellipse cx="269.6" cy="333.3" rx="1.92" ry="1.20" transform="rotate(-5 269.6 333.3)" fill="#adcaf5" fill-opacity="0.75"/><ellipse cx="341.2" cy="373.0" rx="1.28" ry="0.86" fill="#adcaf5" fill-opacity="0.6"/><ellipse cx="336.4" cy="373.9" rx="1.25" ry="0.99" fill="#adcaf5" fill-opacity="0.6"/><ellipse cx="343.9" cy="385.2" rx="1.72" ry="0.64" fill="#adcaf5" fill-opacity="0.6"/><ellipse cx="339.6" cy="387.4" rx="1.61" ry="0.58" fill="#adcaf5" fill-opacity="0.6"/><ellipse cx="326.3" cy="370.9" rx="0.84" ry="0.63" fill="#adcaf5" fill-opacity="0.6"/><ellipse cx="324.8" cy="378.4" rx="1.56" ry="0.96" fill="#adcaf5" fill-opacity="0.6"/><ellipse cx="327.3" cy="379.9" rx="1.43" ry="0.58" fill="#adcaf5" fill-opacity="0.6"/><ellipse cx="349.5" cy="388.2" rx="0.98" ry="0.99" fill="#adcaf5" fill-opacity="0.6"/><ellipse cx="334.7" cy="372.4" rx="1.77" ry="0.93" fill="#adcaf5" fill-opacity="0.6"/><ellipse cx="327.5" cy="370.5" rx="1.28" ry="0.68" fill="#adcaf5" fill-opacity="0.6"/><ellipse cx="328.6" cy="366.8" rx="1.49" ry="0.52" fill="#adcaf5" fill-opacity="0.6"/><ellipse cx="339.5" cy="370.8" rx="0.78" ry="0.68" fill="#adcaf5" fill-opacity="0.6"/><ellipse cx="341.6" cy="373.2" rx="0.83" ry="1.01" fill="#adcaf5" fill-opacity="0.6"/><ellipse cx="346.6" cy="388.4" rx="0.87" ry="0.64" fill="#adcaf5" fill-opacity="0.6"/><path d="M214.2 275.4 L222.3 273.6 L231.4 276.3 L234.1 280.8 L229.6 286.2 L224.2 291.7 L218.7 296.2 L215.1 291.7 L213.3 284.4Z" fill="#f3f2f0" stroke="#f3f2f0" stroke-width="0.8" stroke-linejoin="round" opacity="1"/><path d="M229.6 289.9 L235.0 285.3 L242.2 284.4 L249.4 283.5 L254.8 288.1 L260.3 295.3 L263.9 302.5 L262.1 308.8 L256.6 312.4 L249.4 314.2 L242.2 313.3 L236.8 310.6 L232.3 304.3 L230.5 297.1Z" fill="#f3f2f0" stroke="#f3f2f0" stroke-width="0.8" stroke-linejoin="round" opacity="1"/><path d="M253.0 278.1 L258.8 276.9 L259.7 288.1 L254.8 287.1Z" fill="#f3f2f0" stroke="#f3f2f0" stroke-width="0.8" stroke-linejoin="round" opacity="1"/><path d="M267.5 279.0 L274.7 277.2 L278.3 284.4 L272.9 293.5 L268.4 288.1Z" fill="#f3f2f0" stroke="#f3f2f0" stroke-width="0.8" stroke-linejoin="round" opacity="1"/><path d="M279.2 277.2 L287.3 275.4 L289.1 284.4 L282.3 288.1Z" fill="#f3f2f0" stroke="#f3f2f0" stroke-width="0.8" stroke-linejoin="round" opacity="1"/><path d="M274.7 297.1 L281.9 295.3 L285.5 302.5 L281.9 311.5 L276.5 309.7Z" fill="#f3f2f0" stroke="#f3f2f0" stroke-width="0.8" stroke-linejoin="round" opacity="1"/><path d="M272.9 311.5 L278.3 310.6 L279.2 315.1 L274.7 316.0Z" fill="#f3f2f0" stroke="#f3f2f0" stroke-width="0.8" stroke-linejoin="round" opacity="1"/><path d="M277.2 275.4 L288.1 276.3 L287.1 284.4 L282.6 288.1 L277.2 286.2Z" fill="#f3f2f0" stroke="#f3f2f0" stroke-width="0.8" stroke-linejoin="round" opacity="1"/><path d="M270.0 279.0 L275.4 278.1 L276.3 288.1 L270.0 293.5Z" fill="#f3f2f0" stroke="#f3f2f0" stroke-width="0.8" stroke-linejoin="round" opacity="1"/><path d="M277.2 293.5 L284.4 295.3 L283.5 306.1 L277.2 307.9Z" fill="#f3f2f0" stroke="#f3f2f0" stroke-width="0.8" stroke-linejoin="round" opacity="1"/><path d="M291.7 280.8 L298.9 278.1 L306.1 279.0 L313.3 280.8 L318.7 285.3 L324.2 291.7 L329.6 297.1 L335.0 303.4 L340.4 310.6 L345.8 317.8 L351.2 324.2 L347.6 327.8 L342.2 324.2 L341.3 329.6 L344.0 336.8 L342.2 344.0 L337.7 345.8 L333.2 341.3 L327.8 338.6 L322.3 336.8 L318.7 334.1 L324.2 329.6 L327.8 324.2 L327.8 318.7 L324.2 313.3 L318.7 309.7 L314.2 306.1 L309.7 303.4 L304.3 304.3 L298.9 302.5 L294.4 298.9 L291.7 291.7 L290.8 285.3Z" fill="#f3f2f0" stroke="#f3f2f0" stroke-width="0.8" stroke-linejoin="round" opacity="1"/><path d="M317.8 316.0 L321.4 315.1 L323.2 319.6 L319.6 321.4Z" fill="#f3f2f0" stroke="#f3f2f0" stroke-width="0.8" stroke-linejoin="round" opacity="1"/><path d="M299.8 332.3 L306.1 334.1 L308.8 339.5 L304.3 342.2 L299.8 338.6Z" fill="#f3f2f0" stroke="#f3f2f0" stroke-width="0.8" stroke-linejoin="round" opacity="1"/><path d="M297.1 272.5 L316.9 272.5 L322.3 277.2 L318.7 280.8 L311.5 278.1 L304.3 277.2 L297.1 277.2Z" fill="#f3f2f0" stroke="#f3f2f0" stroke-width="0.8" stroke-linejoin="round" opacity="1"/><path d="M364.2 272.0 L443.9 272.0 L438.8 282.6 L436.3 295.3 L433.8 307.9 L424.9 314.2 L413.5 320.6 L405.9 328.1 L398.4 335.7 L393.3 345.8 L389.5 353.9 L384.5 350.9 L379.4 343.3 L376.9 333.2 L374.3 323.1 L370.6 313.0 L368.0 300.3 L366.8 287.7 L365.5 280.1Z" fill="#fcfcfc" stroke="#fcfcfc" stroke-width="0.8" stroke-linejoin="round" opacity="1"/><path d="M437.5 329.4 L443.9 326.9 L451.4 327.6 L456.5 331.2 L452.7 337.0 L445.1 340.8 L438.8 338.3 L436.8 333.2Z" fill="#f7f7f6" stroke="#f7f7f6" stroke-width="0.8" stroke-linejoin="round" opacity="1"/><path d="M465.3 381.2 L470.4 377.4 L473.7 381.2 L471.7 386.8 L466.6 388.3Z" fill="#f3f2f0" stroke="#f3f2f0" stroke-width="0.8" stroke-linejoin="round" opacity="1"/><path d="M474.2 363.5 L481.8 361.0 L481.8 388.8 L475.5 387.5 L476.7 378.7 L473.7 371.1Z" fill="#f3f2f0" stroke="#f3f2f0" stroke-width="0.8" stroke-linejoin="round" opacity="1"/><path d="M358.4 394.0 L365.7 392.2 L371.1 397.6 L369.3 403.9 L363.9 404.8 L359.4 401.2Z" fill="#f3f2f0" stroke="#f3f2f0" stroke-width="0.8" stroke-linejoin="round" opacity="1"/><path d="M356.6 392.6 L360.3 392.2 L360.6 393.6 L357.0 394.0Z" fill="#f3f2f0" stroke="#f3f2f0" stroke-width="0.8" stroke-linejoin="round" opacity="1"/><path d="M304.7 467.9 L312.6 468.8 L322.1 472.0 L329.0 475.8 L322.1 476.4 L312.6 473.3 L306.3 471.0Z" fill="#f3f2f0" stroke="#f3f2f0" stroke-width="0.8" stroke-linejoin="round" opacity="1"/><path d="M331.6 477.4 L339.1 477.7 L338.5 480.8 L331.6 480.2Z" fill="#f3f2f0" stroke="#f3f2f0" stroke-width="0.8" stroke-linejoin="round" opacity="1"/><path d="M341.7 479.3 L344.2 479.3 L344.2 480.5 L341.7 480.5Z" fill="#f3f2f0" stroke="#f3f2f0" stroke-width="0.8" stroke-linejoin="round" opacity="1"/><path d="M315.8 460.0 L317.7 459.4 L318.9 464.7 L317.0 465.4Z" fill="#f3f2f0" stroke="#f3f2f0" stroke-width="0.8" stroke-linejoin="round" opacity="1"/><path d="M309.2 509.9 L311.2 505.7 L314.8 503.5 L321.7 498.7 L327.3 496.8 L335.6 496.0 L346.8 500.1 L357.9 504.3 L366.2 508.5 L374.6 514.0 L382.9 519.6 L391.3 525.2 L399.6 532.1 L406.6 538.5 L413.0 546.0 L313.4 546.0 L311.2 530.7 L309.5 519.6Z" fill="#f3f2f0" stroke="#f3f2f0" stroke-width="0.8" stroke-linejoin="round" opacity="1"/><path d="M481.7 438.9 L474.7 441.7 L469.2 445.9 L463.6 454.2 L458.0 461.8 L452.5 469.5 L449.7 480.7 L450.2 491.8 L453.9 500.1 L460.8 507.1 L469.2 511.3 L481.7 509.9Z" fill="#f3f2f0" stroke="#f3f2f0" stroke-width="0.8" stroke-linejoin="round" opacity="1"/><path d="M465.8 417.2 L474.7 415.3 L481.7 415.3 L481.7 436.2 L473.3 435.6 L469.2 433.4 L465.8 425.0Z" fill="#f3f2f0" stroke="#f3f2f0" stroke-width="0.8" stroke-linejoin="round" opacity="1"/><path d="M149.0 476.0 L153.0 478.0 L152.0 481.0 L149.0 480.0Z" fill="#f3f2f0" opacity="1"/>
<line x1="179.4" y1="306" x2="179.4" y2="356.5" stroke="#b8b8b8" stroke-width="0.6"/>
<path d="M217 399 L283 399 L290 403" fill="none" stroke="#c4c4c4" stroke-width="0.5"/>
<text x="269.5" y="383.8" font-size="9.4" fill="#222" font-weight="bold" text-anchor="middle" textLength="73.7" lengthAdjust="spacingAndGlyphs" >NORTH AMERICA</text>
<text x="125.5" y="444.3" font-size="9.2" fill="#5470c4" font-weight="normal" text-anchor="middle" textLength="26" lengthAdjust="spacingAndGlyphs" >Pacific</text>
<text x="126.3" y="453.6" font-size="9.2" fill="#5470c4" font-weight="normal" text-anchor="middle" textLength="26" lengthAdjust="spacingAndGlyphs" >Ocean</text>
<text x="395.5" y="448.3" font-size="9.2" fill="#5470c4" font-weight="normal" text-anchor="middle" textLength="30.6" lengthAdjust="spacingAndGlyphs" >Atlantic</text>
<text x="397" y="459" font-size="9.2" fill="#5470c4" font-weight="normal" text-anchor="middle" textLength="26" lengthAdjust="spacingAndGlyphs" >Ocean</text>
<circle cx="270.2" cy="450.2" r="7.8" fill="#fbf1f2" fill-opacity="0.7" stroke="#ccbcc8" stroke-opacity="0.85" stroke-width="0.8"/>
<circle cx="298.2" cy="411.7" r="6.9" fill="#fbf1f2" fill-opacity="0.7" stroke="#ccbcc8" stroke-opacity="0.85" stroke-width="0.8"/>
<circle cx="302.5" cy="411.7" r="6.5" fill="#fbf1f2" fill-opacity="0.7" stroke="#ccbcc8" stroke-opacity="0.85" stroke-width="0.8"/>
<circle cx="335.7" cy="408.0" r="6.9" fill="#fbf1f2" fill-opacity="0.7" stroke="#ccbcc8" stroke-opacity="0.85" stroke-width="0.8"/>
<circle cx="336.4" cy="413.1" r="6.8" fill="#fbf1f2" fill-opacity="0.7" stroke="#ccbcc8" stroke-opacity="0.85" stroke-width="0.8"/>
<circle cx="257.1" cy="441.7" r="7.0" fill="#dcdff4" fill-opacity="0.62" stroke="#a8acd4" stroke-opacity="0.85" stroke-width="0.8"/>
<circle cx="222.9" cy="415.0" r="7.4" fill="#dcdff4" fill-opacity="0.62" stroke="#a8acd4" stroke-opacity="0.85" stroke-width="0.8"/>
<circle cx="244.9" cy="428.6" r="6.8" fill="#dcdff4" fill-opacity="0.62" stroke="#a8acd4" stroke-opacity="0.85" stroke-width="0.8"/>
<circle cx="258.0" cy="429.2" r="7.0" fill="#dcdff4" fill-opacity="0.62" stroke="#a8acd4" stroke-opacity="0.85" stroke-width="0.8"/>
<circle cx="316.2" cy="414.5" r="7.0" fill="#dcdff4" fill-opacity="0.62" stroke="#a8acd4" stroke-opacity="0.85" stroke-width="0.8"/>
<circle cx="248.2" cy="404.2" r="8.5" fill="#c6ccee" fill-opacity="0.62" stroke="#949cce" stroke-opacity="0.85" stroke-width="0.8"/>
<circle cx="236.8" cy="413.3" r="8.4" fill="#c6ccee" fill-opacity="0.62" stroke="#949cce" stroke-opacity="0.85" stroke-width="0.8"/>
<circle cx="282.4" cy="406.5" r="7.7" fill="#c6ccee" fill-opacity="0.62" stroke="#949cce" stroke-opacity="0.85" stroke-width="0.8"/>
<circle cx="252.2" cy="417.7" r="7.8" fill="#f6cdd0" fill-opacity="0.6" stroke="#d4a4ac" stroke-opacity="0.85" stroke-width="0.8"/>
<circle cx="232.3" cy="427.6" r="7.4" fill="#f6cdd0" fill-opacity="0.6" stroke="#d4a4ac" stroke-opacity="0.85" stroke-width="0.8"/>
<circle cx="272.2" cy="440.1" r="6.8" fill="#f6cdd0" fill-opacity="0.6" stroke="#d4a4ac" stroke-opacity="0.85" stroke-width="0.8"/>
<circle cx="268.5" cy="411.5" r="6.8" fill="#f6cdd0" fill-opacity="0.6" stroke="#d4a4ac" stroke-opacity="0.85" stroke-width="0.8"/>
<circle cx="294.5" cy="447.0" r="6.5" fill="#f6cdd0" fill-opacity="0.6" stroke="#d4a4ac" stroke-opacity="0.85" stroke-width="0.8"/>
<circle cx="243.2" cy="442.1" r="9.1" fill="#98aae4" fill-opacity="0.72" stroke="#6878bc" stroke-opacity="0.85" stroke-width="0.8"/>
<circle cx="306.8" cy="457.7" r="9.1" fill="#98aae4" fill-opacity="0.72" stroke="#6878bc" stroke-opacity="0.85" stroke-width="0.8"/>
<circle cx="224.2" cy="403.9" r="7.7" fill="#ee9aa0" fill-opacity="0.58" stroke="#c87880" stroke-opacity="0.85" stroke-width="0.8"/>
<circle cx="267.9" cy="403.9" r="7.6" fill="#ee9aa0" fill-opacity="0.58" stroke="#c87880" stroke-opacity="0.85" stroke-width="0.8"/>
<circle cx="272.9" cy="431.3" r="7.0" fill="#ee9aa0" fill-opacity="0.58" stroke="#c87880" stroke-opacity="0.85" stroke-width="0.8"/>
<circle cx="303.2" cy="431.9" r="6.5" fill="#ee9aa0" fill-opacity="0.58" stroke="#c87880" stroke-opacity="0.85" stroke-width="0.8"/>
<circle cx="322.0" cy="430.4" r="6.9" fill="#ee9aa0" fill-opacity="0.58" stroke="#c87880" stroke-opacity="0.85" stroke-width="0.8"/>
<circle cx="330.6" cy="421.0" r="6.9" fill="#ee9aa0" fill-opacity="0.58" stroke="#c87880" stroke-opacity="0.85" stroke-width="0.8"/>
<circle cx="333.5" cy="423.2" r="6.5" fill="#f6cdd0" fill-opacity="0.6" stroke="#d4a4ac" stroke-opacity="0.85" stroke-width="0.8"/>
<circle cx="314.8" cy="438.4" r="7.5" fill="#e87680" fill-opacity="0.6" stroke="#c05864" stroke-opacity="0.85" stroke-width="0.8"/>
<circle cx="330.6" cy="415.3" r="7.2" fill="#e87680" fill-opacity="0.6" stroke="#c05864" stroke-opacity="0.85" stroke-width="0.8"/>
<circle cx="304.7" cy="446.3" r="7.2" fill="#e87680" fill-opacity="0.6" stroke="#c05864" stroke-opacity="0.85" stroke-width="0.8"/>
<circle cx="269.1" cy="421.8" r="7.0" fill="#e35a66" fill-opacity="0.64" stroke="#b84050" stroke-opacity="0.85" stroke-width="0.8"/>
<circle cx="283.1" cy="420.5" r="6.8" fill="#e35a66" fill-opacity="0.64" stroke="#b84050" stroke-opacity="0.85" stroke-width="0.8"/>
<circle cx="226.0" cy="434.0" r="6.8" fill="#e35a66" fill-opacity="0.64" stroke="#b84050" stroke-opacity="0.85" stroke-width="0.8"/>
<circle cx="298.9" cy="437.7" r="7.2" fill="#e35a66" fill-opacity="0.64" stroke="#b84050" stroke-opacity="0.85" stroke-width="0.8"/>
<circle cx="286.6" cy="451.4" r="6.9" fill="#e35a66" fill-opacity="0.64" stroke="#b84050" stroke-opacity="0.85" stroke-width="0.8"/>
<circle cx="292.4" cy="425.8" r="6.5" fill="#dc3a4c" fill-opacity="0.68" stroke="#a82434" stroke-opacity="0.85" stroke-width="0.8"/>
<circle cx="316.9" cy="423.9" r="6.6" fill="#dc3a4c" fill-opacity="0.68" stroke="#a82434" stroke-opacity="0.85" stroke-width="0.8"/>
<circle cx="285.5" cy="440.3" r="6.9" fill="#dc3a4c" fill-opacity="0.68" stroke="#a82434" stroke-opacity="0.85" stroke-width="0.8"/>
<circle cx="155" cy="337.8" r="7.7" fill="#f2b4b8" fill-opacity="0.75" stroke="#c87880" stroke-width="0.8"/>
<circle cx="148.2" cy="478" r="7.2" fill="#ee9ca4" fill-opacity="0.8" stroke="#bc5a6a" stroke-width="0.9"/>
<rect x="10" y="528.5" width="3.2" height="3.2" fill="#f25022"/><rect x="13.7" y="528.5" width="3.2" height="3.2" fill="#7fba00"/><rect x="10" y="532.2" width="3.2" height="3.2" fill="#00a4ef"/><rect x="13.7" y="532.2" width="3.2" height="3.2" fill="#ffb900"/>
<text x="19.3" y="534.8" font-size="6.6" fill="#5c6678" font-weight="normal" text-anchor="start" textLength="38.6" lengthAdjust="spacingAndGlyphs" >Microsoft Bing</text>
<text x="291" y="536.8" font-size="7" fill="#222" font-weight="normal" text-anchor="start" textLength="144" lengthAdjust="spacingAndGlyphs" stroke="#fff" stroke-width="1.5" stroke-opacity="0.6" paint-order="stroke">© 2026 TomTom, © 2026 Microsoft Corporation</text>
<text x="441" y="536.8" font-size="7" fill="#4464c4" font-weight="normal" text-anchor="start" textLength="18" lengthAdjust="spacingAndGlyphs" text-decoration="underline">Terms</text>
</g>
<rect x="488.8" y="254" width="470.8" height="293.8" fill="#ffffff" fill-opacity="0.965"/>
<g fill="#e3e4e8"><path d="M491.3 538.5 L497.9 538.5 L497.9 527.8 L501.6 526.8 L501.6 538.5 L513.6 538.5 L513.6 542.1 L491.3 542.1Z"/><path d="M507.5 519.2 L521.7 519.2 L521.7 522.8 L511.1 522.8 L511.1 528.9 L514.6 527.8 L518.7 528.9 L521.7 531.9 L522.5 535.5 L521.2 539.5 L517.7 542.1 L515.4 542.1 L515.4 539.0 L518.2 537.3 L518.9 534.4 L517.7 531.9 L514.6 530.9 L511.1 532.2 L507.5 532.2Z"/><path d="M522.7 538.5 L546.6 538.5 L545.6 533.9 L542.5 530.4 L538.0 528.9 L532.9 529.9 L532.4 526.8 L538.0 525.3 L544.1 526.5 L548.6 530.4 L550.6 535.5 L550.6 542.1 L522.7 542.1Z"/></g>
<text x="493.5" y="266" font-size="12.2" fill="#333" font-weight="normal" text-anchor="start" textLength="153" lengthAdjust="spacingAndGlyphs" stroke="#333" stroke-width="0.2">Sum of Local Mins by State</text>
<text x="493" y="285.6" font-size="9.7" fill="#3a3a3a" font-weight="bold" text-anchor="start" textLength="87" lengthAdjust="spacingAndGlyphs" >Sum of Local Mins</text>
<text x="586.5" y="285.5" font-size="9" fill="#555" font-weight="normal" text-anchor="start" textLength="30" lengthAdjust="spacingAndGlyphs" >10.96K</text>
<rect x="618.5" y="275" width="61.5" height="14.5" fill="url(#g2)"/>
<text x="683" y="285.5" font-size="9" fill="#555" font-weight="normal" text-anchor="start" textLength="30" lengthAdjust="spacingAndGlyphs" >29.93K</text>
<line x1="532.5" y1="300" x2="532.5" y2="512" stroke="#d0d0d0" stroke-width="1" stroke-dasharray="1,3"/>
<text x="533.0" y="526.9" font-size="9" fill="#605e5c" font-weight="normal" text-anchor="middle" >0K</text>
<line x1="595.9" y1="300" x2="595.9" y2="512" stroke="#d0d0d0" stroke-width="1" stroke-dasharray="1,3"/>
<text x="596.35" y="526.9" font-size="9" fill="#605e5c" font-weight="normal" text-anchor="middle" >5K</text>
<line x1="659.2" y1="300" x2="659.2" y2="512" stroke="#d0d0d0" stroke-width="1" stroke-dasharray="1,3"/>
<text x="659.7" y="526.9" font-size="9" fill="#605e5c" font-weight="normal" text-anchor="middle" >10K</text>
<line x1="722.5" y1="300" x2="722.5" y2="512" stroke="#d0d0d0" stroke-width="1" stroke-dasharray="1,3"/>
<text x="723.05" y="526.9" font-size="9" fill="#605e5c" font-weight="normal" text-anchor="middle" >15K</text>
<line x1="785.9" y1="300" x2="785.9" y2="512" stroke="#d0d0d0" stroke-width="1" stroke-dasharray="1,3"/>
<text x="786.4" y="526.9" font-size="9" fill="#605e5c" font-weight="normal" text-anchor="middle" >20K</text>
<line x1="849.2" y1="300" x2="849.2" y2="512" stroke="#d0d0d0" stroke-width="1" stroke-dasharray="1,3"/>
<text x="849.75" y="526.9" font-size="9" fill="#605e5c" font-weight="normal" text-anchor="middle" >25K</text>
<line x1="912.6" y1="300" x2="912.6" y2="512" stroke="#d0d0d0" stroke-width="1" stroke-dasharray="1,3"/>
<text x="913.1" y="526.9" font-size="9" fill="#605e5c" font-weight="normal" text-anchor="middle" >30K</text>
<rect x="532" y="306.40" width="380.1" height="13.2" fill="#fff" fill-opacity="0.9"/>
<rect x="532.5" y="307.10" width="379.1" height="11.8" fill="#0e1a80"/>
<text x="525.5" y="316.2" font-size="9" fill="#605e5c" font-weight="normal" text-anchor="end" >WV</text>
<text x="917.4319999999999" y="316.2" font-size="9" fill="#605e5c" font-weight="normal" text-anchor="start" textLength="22.4" lengthAdjust="spacingAndGlyphs" >29.9K</text>
<rect x="532" y="322.21" width="325.6" height="13.2" fill="#fff" fill-opacity="0.9"/>
<rect x="532.5" y="322.91" width="324.6" height="11.8" fill="#31479e"/>
<text x="525.5" y="332.01" font-size="9" fill="#605e5c" font-weight="normal" text-anchor="end" >AZ</text>
<text x="862.9079999999999" y="332.01" font-size="9" fill="#605e5c" font-weight="normal" text-anchor="start" textLength="22.4" lengthAdjust="spacingAndGlyphs" >25.6K</text>
<rect x="532" y="338.02" width="324.3" height="13.2" fill="#fff" fill-opacity="0.9"/>
<rect x="532.5" y="338.72" width="323.3" height="11.8" fill="#31479e"/>
<text x="525.5" y="347.82" font-size="9" fill="#605e5c" font-weight="normal" text-anchor="end" >CT</text>
<text x="861.6399999999999" y="347.82" font-size="9" fill="#605e5c" font-weight="normal" text-anchor="start" textLength="22.4" lengthAdjust="spacingAndGlyphs" >25.5K</text>
<rect x="532" y="353.83" width="318.0" height="13.2" fill="#fff" fill-opacity="0.9"/>
<rect x="532.5" y="354.53" width="317.0" height="11.8" fill="#344aa1"/>
<text x="525.5" y="363.63" font-size="9" fill="#605e5c" font-weight="normal" text-anchor="end" >FL</text>
<text x="855.3" y="363.63" font-size="9" fill="#605e5c" font-weight="normal" text-anchor="start" textLength="22.4" lengthAdjust="spacingAndGlyphs" >25.0K</text>
<rect x="532" y="369.64" width="305.3" height="13.2" fill="#fff" fill-opacity="0.9"/>
<rect x="532.5" y="370.34" width="304.3" height="11.8" fill="#3850a6"/>
<text x="525.5" y="379.44" font-size="9" fill="#605e5c" font-weight="normal" text-anchor="end" >AL</text>
<text x="842.6199999999999" y="379.44" font-size="9" fill="#605e5c" font-weight="normal" text-anchor="start" textLength="22.4" lengthAdjust="spacingAndGlyphs" >24.0K</text>
<rect x="532" y="385.45" width="304.1" height="13.2" fill="#fff" fill-opacity="0.9"/>
<rect x="532.5" y="386.15" width="303.1" height="11.8" fill="#3951a7"/>
<text x="525.5" y="395.25" font-size="9" fill="#605e5c" font-weight="normal" text-anchor="end" >MN</text>
<text x="841.3519999999999" y="395.25" font-size="9" fill="#605e5c" font-weight="normal" text-anchor="start" textLength="22.4" lengthAdjust="spacingAndGlyphs" >23.9K</text>
<rect x="532" y="401.26" width="290.1" height="13.2" fill="#fff" fill-opacity="0.9"/>
<rect x="532.5" y="401.96" width="289.1" height="11.8" fill="#3e57ad"/>
<text x="525.5" y="411.06" font-size="9" fill="#605e5c" font-weight="normal" text-anchor="end" >CO</text>
<text x="827.404" y="411.06" font-size="9" fill="#605e5c" font-weight="normal" text-anchor="start" textLength="22.4" lengthAdjust="spacingAndGlyphs" >22.8K</text>
<rect x="532" y="417.07" width="288.8" height="13.2" fill="#fff" fill-opacity="0.9"/>
<rect x="532.5" y="417.77" width="287.8" height="11.8" fill="#3f58ae"/>
<text x="525.5" y="426.87" font-size="9" fill="#605e5c" font-weight="normal" text-anchor="end" >NY</text>
<text x="826.136" y="426.87" font-size="9" fill="#605e5c" font-weight="normal" text-anchor="start" textLength="22.4" lengthAdjust="spacingAndGlyphs" >22.7K</text>
<rect x="532" y="432.88" width="288.8" height="13.2" fill="#fff" fill-opacity="0.9"/>
<rect x="532.5" y="433.58" width="287.8" height="11.8" fill="#3f58ae"/>
<text x="525.5" y="442.68" font-size="9" fill="#605e5c" font-weight="normal" text-anchor="end" >OR</text>
<text x="826.136" y="442.68" font-size="9" fill="#605e5c" font-weight="normal" text-anchor="start" textLength="22.4" lengthAdjust="spacingAndGlyphs" >22.7K</text>
<rect x="532" y="448.69" width="287.6" height="13.2" fill="#fff" fill-opacity="0.9"/>
<rect x="532.5" y="449.39" width="286.6" height="11.8" fill="#4059af"/>
<text x="525.5" y="458.48999999999995" font-size="9" fill="#605e5c" font-weight="normal" text-anchor="end" >MT</text>
<text x="824.8679999999999" y="458.48999999999995" font-size="9" fill="#605e5c" font-weight="normal" text-anchor="start" textLength="22.4" lengthAdjust="spacingAndGlyphs" >22.6K</text>
<rect x="532" y="464.50" width="287.6" height="13.2" fill="#fff" fill-opacity="0.9"/>
<rect x="532.5" y="465.20" width="286.6" height="11.8" fill="#4059af"/>
<text x="525.5" y="474.3" font-size="9" fill="#605e5c" font-weight="normal" text-anchor="end" >IN</text>
<text x="824.8679999999999" y="474.3" font-size="9" fill="#605e5c" font-weight="normal" text-anchor="start" textLength="22.4" lengthAdjust="spacingAndGlyphs" >22.6K</text>
<rect x="532" y="480.31" width="286.3" height="13.2" fill="#fff" fill-opacity="0.9"/>
<rect x="532.5" y="481.01" width="285.3" height="11.8" fill="#415ab0"/>
<text x="525.5" y="490.10999999999996" font-size="9" fill="#605e5c" font-weight="normal" text-anchor="end" >ID</text>
<text x="823.5999999999999" y="490.10999999999996" font-size="9" fill="#605e5c" font-weight="normal" text-anchor="start" textLength="22.4" lengthAdjust="spacingAndGlyphs" >22.5K</text>
<rect x="532" y="496.12" width="285.0" height="13.2" fill="#fff" fill-opacity="0.9"/>
<rect x="532.5" y="496.82" width="284.0" height="11.8" fill="#425bb1"/>
<text x="525.5" y="505.92" font-size="9" fill="#605e5c" font-weight="normal" text-anchor="end" >UT</text>
<text x="822.3319999999999" y="505.92" font-size="9" fill="#605e5c" font-weight="normal" text-anchor="start" textLength="22.4" lengthAdjust="spacingAndGlyphs" >22.4K</text>
<text transform="translate(502.8,421.3) rotate(-90)" font-size="10" fill="#252423" stroke="#252423" stroke-width="0.3" textLength="24.5" lengthAdjust="spacingAndGlyphs">State</text>
<text x="737.5" y="541" font-size="10.5" fill="#252423" font-weight="normal" text-anchor="middle" textLength="89" lengthAdjust="spacingAndGlyphs" stroke="#252423" stroke-width="0.3">Sum of Local Mins</text>
<rect x="950.4" y="301" width="4.4" height="214" rx="2.2" fill="#e6e6ea"/>
<rect x="951.6" y="301" width="4.3" height="53" rx="2.1" fill="#a9a9a9"/>
</svg></div></body></html>
